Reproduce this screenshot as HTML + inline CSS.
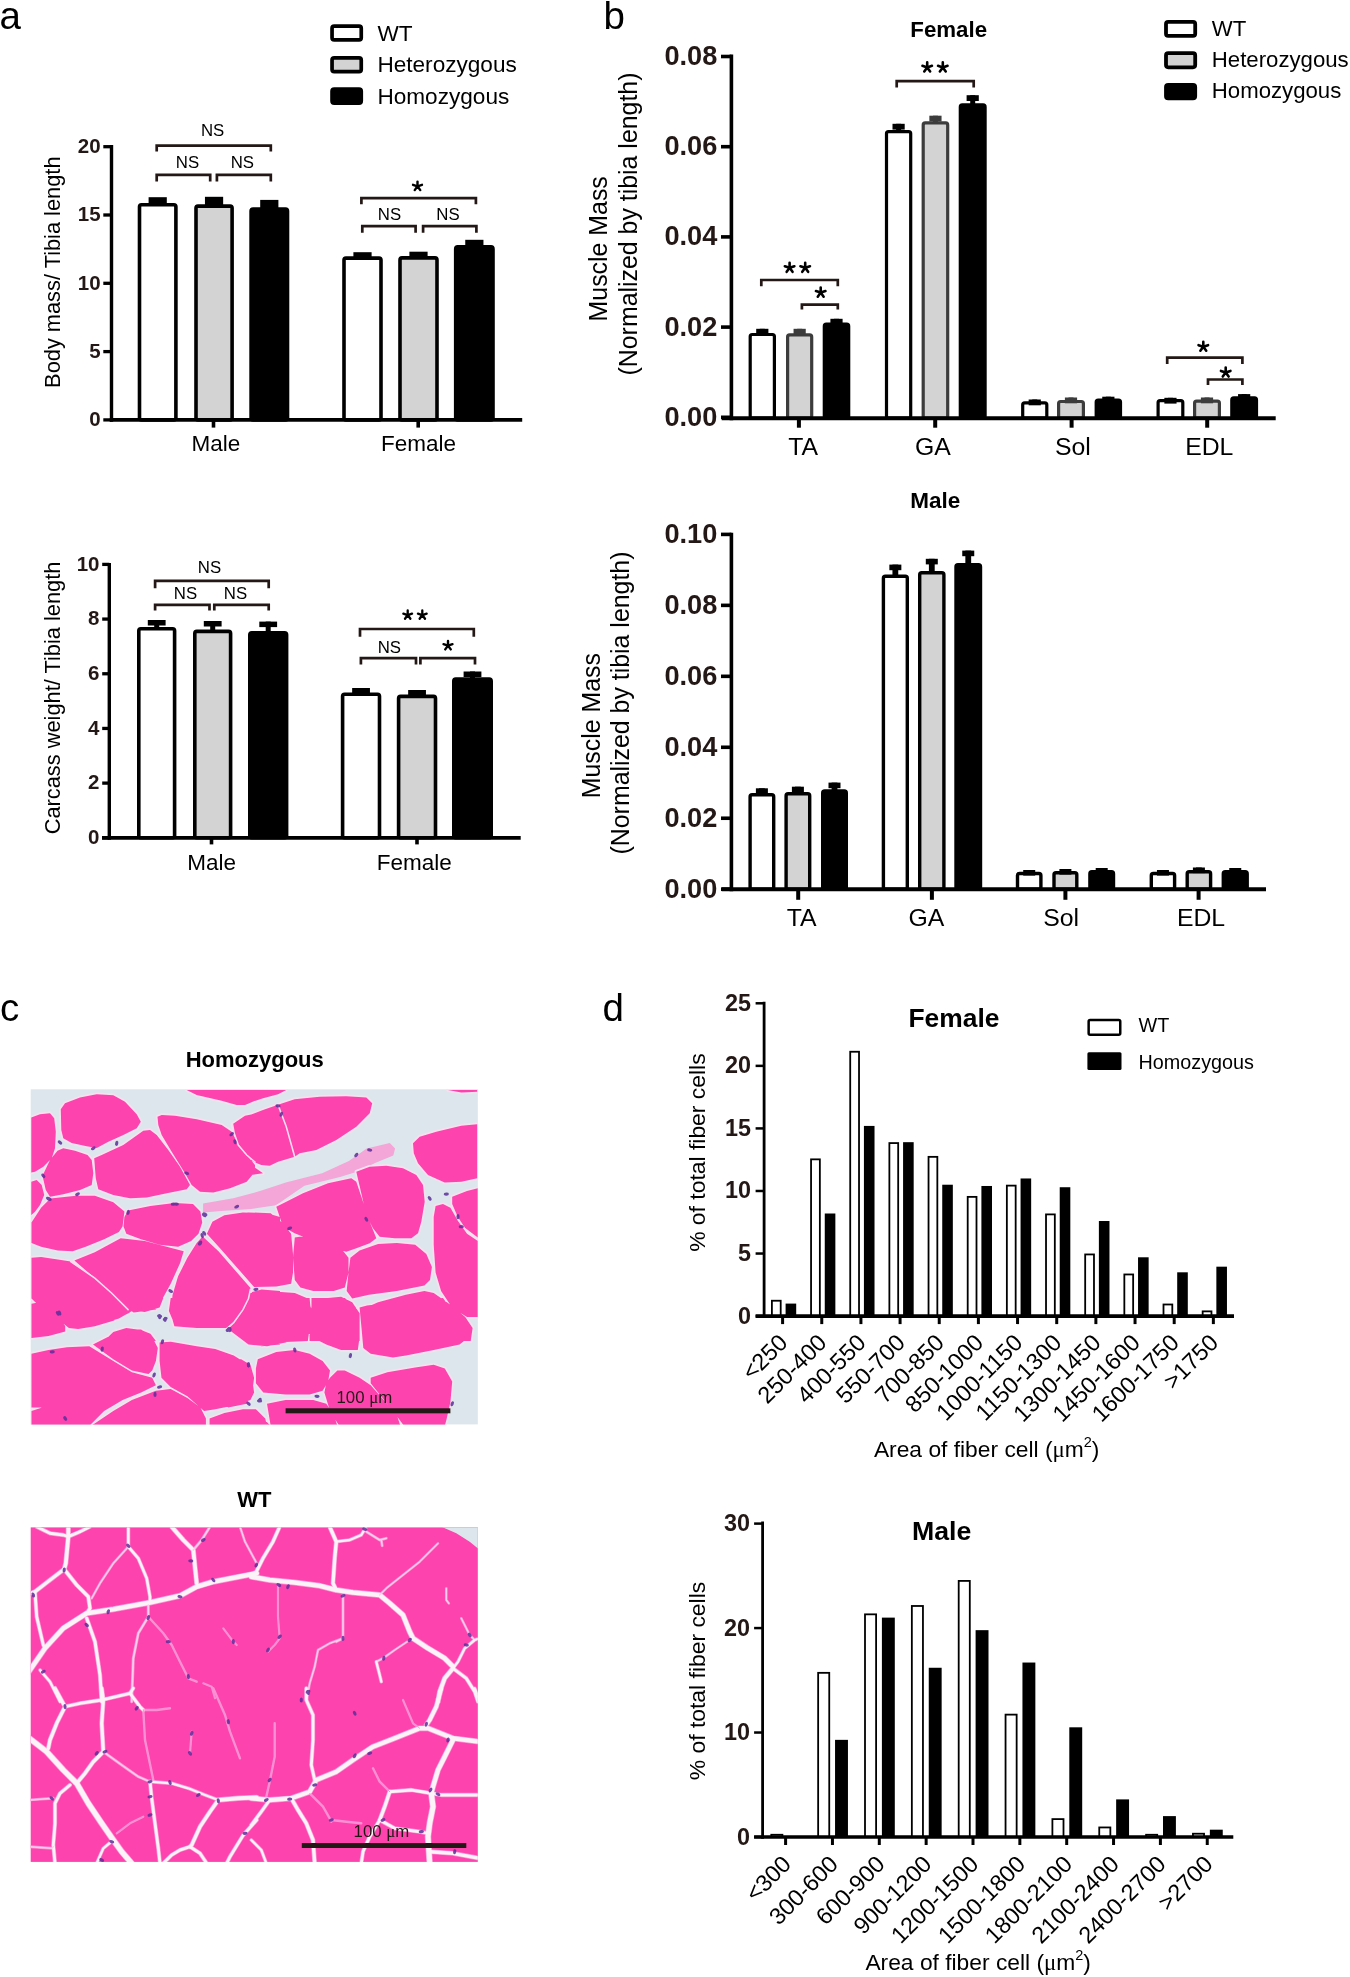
<!DOCTYPE html>
<html><head><meta charset="utf-8"><style>
html,body{margin:0;padding:0;background:#fff;}
svg{display:block;}
text{font-family:"Liberation Sans", sans-serif;}
</style></head><body>
<div style="will-change:transform;width:1350px;height:1977px"><svg width="1350" height="1977" viewBox="0 0 1350 1977">
<rect width="1350" height="1977" fill="#fff"/>
<text x="-0.50" y="28.70" font-size="38.5" text-anchor="start" fill="#000">a</text>
<rect x="332.05" y="26.15" width="29.20" height="13.80" rx="2.2" fill="#fff" stroke="#000" stroke-width="3.7"/>
<text x="377.40" y="40.60" font-size="22.6" text-anchor="start" fill="#000">WT</text>
<rect x="332.05" y="57.85" width="29.20" height="13.80" rx="2.2" fill="#d3d3d3" stroke="#000" stroke-width="3.7"/>
<text x="377.40" y="72.00" font-size="22.6" text-anchor="start" fill="#000">Heterozygous</text>
<rect x="332.05" y="89.05" width="29.20" height="14.10" rx="2.2" fill="#000" stroke="#000" stroke-width="3.7"/>
<text x="377.40" y="103.50" font-size="22.6" text-anchor="start" fill="#000">Homozygous</text>
<line x1="103.30" y1="419.90" x2="111.50" y2="419.90" stroke="#000" stroke-width="3.3" stroke-linecap="butt"/>
<text x="100.60" y="426.20" font-size="20.5" text-anchor="end" font-weight="bold" fill="#231815">0</text>
<line x1="103.30" y1="351.60" x2="111.50" y2="351.60" stroke="#000" stroke-width="3.3" stroke-linecap="butt"/>
<text x="100.60" y="357.90" font-size="20.5" text-anchor="end" font-weight="bold" fill="#231815">5</text>
<line x1="103.30" y1="283.30" x2="111.50" y2="283.30" stroke="#000" stroke-width="3.3" stroke-linecap="butt"/>
<text x="100.60" y="289.60" font-size="20.5" text-anchor="end" font-weight="bold" fill="#231815">10</text>
<line x1="103.30" y1="215.00" x2="111.50" y2="215.00" stroke="#000" stroke-width="3.3" stroke-linecap="butt"/>
<text x="100.60" y="221.30" font-size="20.5" text-anchor="end" font-weight="bold" fill="#231815">15</text>
<line x1="103.30" y1="146.70" x2="111.50" y2="146.70" stroke="#000" stroke-width="3.3" stroke-linecap="butt"/>
<text x="100.60" y="153.00" font-size="20.5" text-anchor="end" font-weight="bold" fill="#231815">20</text>
<line x1="213.50" y1="420.00" x2="213.50" y2="427.60" stroke="#000" stroke-width="3.6" stroke-linecap="butt"/>
<line x1="418.20" y1="420.00" x2="418.20" y2="427.60" stroke="#000" stroke-width="3.6" stroke-linecap="butt"/>
<text x="216.00" y="450.90" font-size="22.5" text-anchor="middle" fill="#000">Male</text>
<text x="418.50" y="451.00" font-size="22.5" text-anchor="middle" fill="#000">Female</text>
<text x="60.00" y="272.20" font-size="21.8" text-anchor="middle" fill="#000" transform="rotate(-90 60 272.2)">Body mass/ Tibia length</text>
<rect x="139.50" y="204.70" width="36.40" height="215.30" fill="#fff" stroke="#000" stroke-width="3.6" rx="2"/>
<rect x="148.60" y="197.20" width="18.20" height="7.70" fill="#000"/>
<rect x="196.00" y="206.10" width="36.10" height="213.90" fill="#d3d3d3" stroke="#000" stroke-width="3.6" rx="2"/>
<rect x="204.95" y="196.80" width="18.20" height="9.50" fill="#000"/>
<rect x="251.10" y="209.10" width="36.40" height="210.90" fill="#000" stroke="#000" stroke-width="3.6" rx="2"/>
<rect x="260.20" y="199.90" width="18.20" height="9.40" fill="#000"/>
<rect x="344.00" y="258.10" width="37.00" height="161.90" fill="#fff" stroke="#000" stroke-width="3.6" rx="2"/>
<rect x="353.40" y="252.20" width="18.20" height="6.10" fill="#000"/>
<rect x="400.00" y="257.90" width="37.00" height="162.10" fill="#d3d3d3" stroke="#000" stroke-width="3.6" rx="2"/>
<rect x="409.40" y="251.70" width="18.20" height="6.40" fill="#000"/>
<rect x="455.70" y="246.90" width="37.30" height="173.10" fill="#000" stroke="#000" stroke-width="3.6" rx="2"/>
<rect x="465.25" y="239.80" width="18.20" height="7.30" fill="#000"/>
<line x1="111.50" y1="145.00" x2="111.50" y2="421.80" stroke="#000" stroke-width="3.4" stroke-linecap="butt"/>
<line x1="109.80" y1="419.90" x2="522.20" y2="419.90" stroke="#000" stroke-width="3.8" stroke-linecap="butt"/>
<path d="M156.7 151.6 V145.6 H270.8 V151.6" fill="none" stroke="#231815" stroke-width="2.7"/>
<path d="M156.7 181.4 V174.9 H210.2 V181.4" fill="none" stroke="#231815" stroke-width="2.7"/>
<path d="M216.9 181.4 V174.9 H270.8 V181.4" fill="none" stroke="#231815" stroke-width="2.7"/>
<text x="212.60" y="135.70" font-size="16.8" text-anchor="middle" fill="#000">NS</text>
<text x="187.50" y="167.50" font-size="16.8" text-anchor="middle" fill="#000">NS</text>
<text x="242.40" y="167.50" font-size="16.8" text-anchor="middle" fill="#000">NS</text>
<path d="M361.4 204.2 V198.1 H475.9 V204.2" fill="none" stroke="#231815" stroke-width="2.7"/>
<path d="M362.3 232.7 V226.1 H415.6 V232.7" fill="none" stroke="#231815" stroke-width="2.7"/>
<path d="M423.1 232.7 V226.1 H476.4 V232.7" fill="none" stroke="#231815" stroke-width="2.7"/>
<path d="M417.50 186.30 L417.50 181.60 M417.50 186.30 L413.03 184.85 M417.50 186.30 L414.74 190.10 M417.50 186.30 L420.26 190.10 M417.50 186.30 L421.97 184.85 " stroke="#000" stroke-width="2.4" stroke-linecap="round" fill="none"/>
<text x="389.50" y="219.50" font-size="16.8" text-anchor="middle" fill="#000">NS</text>
<text x="448.00" y="219.50" font-size="16.8" text-anchor="middle" fill="#000">NS</text>
<line x1="102.20" y1="837.80" x2="109.30" y2="837.80" stroke="#000" stroke-width="3.3" stroke-linecap="butt"/>
<text x="99.50" y="844.10" font-size="20.5" text-anchor="end" font-weight="bold" fill="#231815">0</text>
<line x1="102.20" y1="783.12" x2="109.30" y2="783.12" stroke="#000" stroke-width="3.3" stroke-linecap="butt"/>
<text x="99.50" y="789.42" font-size="20.5" text-anchor="end" font-weight="bold" fill="#231815">2</text>
<line x1="102.20" y1="728.44" x2="109.30" y2="728.44" stroke="#000" stroke-width="3.3" stroke-linecap="butt"/>
<text x="99.50" y="734.74" font-size="20.5" text-anchor="end" font-weight="bold" fill="#231815">4</text>
<line x1="102.20" y1="673.76" x2="109.30" y2="673.76" stroke="#000" stroke-width="3.3" stroke-linecap="butt"/>
<text x="99.50" y="680.06" font-size="20.5" text-anchor="end" font-weight="bold" fill="#231815">6</text>
<line x1="102.20" y1="619.08" x2="109.30" y2="619.08" stroke="#000" stroke-width="3.3" stroke-linecap="butt"/>
<text x="99.50" y="625.38" font-size="20.5" text-anchor="end" font-weight="bold" fill="#231815">8</text>
<line x1="102.20" y1="564.40" x2="109.30" y2="564.40" stroke="#000" stroke-width="3.3" stroke-linecap="butt"/>
<text x="99.50" y="570.70" font-size="20.5" text-anchor="end" font-weight="bold" fill="#231815">10</text>
<line x1="211.50" y1="837.80" x2="211.50" y2="844.40" stroke="#000" stroke-width="3.6" stroke-linecap="butt"/>
<line x1="417.00" y1="837.80" x2="417.00" y2="844.40" stroke="#000" stroke-width="3.6" stroke-linecap="butt"/>
<text x="211.60" y="869.60" font-size="22.5" text-anchor="middle" fill="#000">Male</text>
<text x="414.20" y="869.60" font-size="22.5" text-anchor="middle" fill="#000">Female</text>
<text x="60.40" y="698.00" font-size="21.8" text-anchor="middle" fill="#000" transform="rotate(-90 60.4 698)">Carcass weight/ Tibia length</text>
<rect x="138.80" y="628.80" width="35.80" height="209.00" fill="#fff" stroke="#000" stroke-width="3.6" rx="2"/>
<rect x="154.20" y="620.00" width="5.00" height="9.00" fill="#000"/>
<rect x="147.80" y="620.00" width="17.80" height="5.50" fill="#000"/>
<rect x="194.80" y="631.40" width="35.80" height="206.40" fill="#d3d3d3" stroke="#000" stroke-width="3.6" rx="2"/>
<rect x="210.20" y="621.00" width="5.00" height="10.60" fill="#000"/>
<rect x="203.80" y="621.00" width="17.80" height="5.50" fill="#000"/>
<rect x="249.80" y="632.80" width="36.80" height="205.00" fill="#000" stroke="#000" stroke-width="3.6" rx="2"/>
<rect x="265.70" y="621.60" width="5.00" height="11.40" fill="#000"/>
<rect x="259.30" y="621.60" width="17.80" height="5.50" fill="#000"/>
<rect x="342.60" y="694.20" width="36.90" height="143.60" fill="#fff" stroke="#000" stroke-width="3.6" rx="2"/>
<rect x="358.55" y="688.00" width="5.00" height="6.40" fill="#000"/>
<rect x="352.15" y="688.00" width="17.80" height="5.50" fill="#000"/>
<rect x="398.60" y="696.40" width="36.90" height="141.40" fill="#d3d3d3" stroke="#000" stroke-width="3.6" rx="2"/>
<rect x="414.55" y="690.00" width="5.00" height="6.60" fill="#000"/>
<rect x="408.15" y="690.00" width="17.80" height="5.50" fill="#000"/>
<rect x="453.80" y="679.10" width="37.40" height="158.70" fill="#000" stroke="#000" stroke-width="3.6" rx="2"/>
<rect x="470.00" y="671.50" width="5.00" height="7.80" fill="#000"/>
<rect x="463.60" y="671.50" width="17.80" height="5.50" fill="#000"/>
<line x1="109.30" y1="563.00" x2="109.30" y2="839.70" stroke="#000" stroke-width="3.4" stroke-linecap="butt"/>
<line x1="102.00" y1="837.80" x2="520.70" y2="837.80" stroke="#000" stroke-width="3.8" stroke-linecap="butt"/>
<path d="M155.1 588.1999999999999 V580.8 H268.7 V588.1999999999999" fill="none" stroke="#231815" stroke-width="2.7"/>
<path d="M155.1 610.4 V604.8 H209.5 V610.4" fill="none" stroke="#231815" stroke-width="2.7"/>
<path d="M214.3 610.4 V604.8 H268.7 V610.4" fill="none" stroke="#231815" stroke-width="2.7"/>
<text x="209.50" y="572.80" font-size="16.8" text-anchor="middle" fill="#000">NS</text>
<text x="185.50" y="599.30" font-size="16.8" text-anchor="middle" fill="#000">NS</text>
<text x="235.50" y="599.30" font-size="16.8" text-anchor="middle" fill="#000">NS</text>
<path d="M360 636.8 V629 H473.8 V636.8" fill="none" stroke="#231815" stroke-width="2.7"/>
<path d="M360.9 664.5 V658.1 H416 V664.5" fill="none" stroke="#231815" stroke-width="2.7"/>
<path d="M420.4 664.5 V658.1 H475 V664.5" fill="none" stroke="#231815" stroke-width="2.7"/>
<path d="M407.70 615.05 L407.70 610.45 M407.70 615.05 L403.33 613.63 M407.70 615.05 L405.00 618.77 M407.70 615.05 L410.40 618.77 M407.70 615.05 L412.07 613.63 " stroke="#000" stroke-width="2.3" stroke-linecap="round" fill="none"/>
<path d="M422.30 615.05 L422.30 610.45 M422.30 615.05 L417.93 613.63 M422.30 615.05 L419.60 618.77 M422.30 615.05 L425.00 618.77 M422.30 615.05 L426.67 613.63 " stroke="#000" stroke-width="2.3" stroke-linecap="round" fill="none"/>
<text x="389.30" y="653.30" font-size="16.8" text-anchor="middle" fill="#000">NS</text>
<path d="M448.00 645.60 L448.00 640.90 M448.00 645.60 L443.53 644.15 M448.00 645.60 L445.24 649.40 M448.00 645.60 L450.76 649.40 M448.00 645.60 L452.47 644.15 " stroke="#000" stroke-width="2.4" stroke-linecap="round" fill="none"/>
<text x="603.50" y="28.70" font-size="38.5" text-anchor="start" fill="#000">b</text>
<rect x="1166.00" y="21.80" width="29.20" height="14.10" rx="2.2" fill="#fff" stroke="#000" stroke-width="3.8"/>
<text x="1211.80" y="36.10" font-size="22.2" text-anchor="start" fill="#000">WT</text>
<rect x="1166.00" y="53.20" width="29.20" height="14.10" rx="2.2" fill="#d3d3d3" stroke="#000" stroke-width="3.8"/>
<text x="1211.80" y="67.20" font-size="22.2" text-anchor="start" fill="#000">Heterozygous</text>
<rect x="1166.00" y="84.80" width="29.20" height="13.60" rx="2.2" fill="#000" stroke="#000" stroke-width="3.8"/>
<text x="1211.80" y="98.30" font-size="22.2" text-anchor="start" fill="#000">Homozygous</text>
<text x="948.70" y="36.70" font-size="22.3" text-anchor="middle" font-weight="bold" fill="#000">Female</text>
<line x1="721.00" y1="417.30" x2="731.40" y2="417.30" stroke="#000" stroke-width="3.6" stroke-linecap="butt"/>
<text x="717.30" y="425.70" font-size="27.2" text-anchor="end" font-weight="bold" fill="#231815">0.00</text>
<line x1="721.00" y1="327.10" x2="731.40" y2="327.10" stroke="#000" stroke-width="3.6" stroke-linecap="butt"/>
<text x="717.30" y="335.50" font-size="27.2" text-anchor="end" font-weight="bold" fill="#231815">0.02</text>
<line x1="721.00" y1="236.90" x2="731.40" y2="236.90" stroke="#000" stroke-width="3.6" stroke-linecap="butt"/>
<text x="717.30" y="245.30" font-size="27.2" text-anchor="end" font-weight="bold" fill="#231815">0.04</text>
<line x1="721.00" y1="146.70" x2="731.40" y2="146.70" stroke="#000" stroke-width="3.6" stroke-linecap="butt"/>
<text x="717.30" y="155.10" font-size="27.2" text-anchor="end" font-weight="bold" fill="#231815">0.06</text>
<line x1="721.00" y1="56.50" x2="731.40" y2="56.50" stroke="#000" stroke-width="3.6" stroke-linecap="butt"/>
<text x="717.30" y="64.90" font-size="27.2" text-anchor="end" font-weight="bold" fill="#231815">0.08</text>
<line x1="798.90" y1="418.20" x2="798.90" y2="427.70" stroke="#000" stroke-width="4" stroke-linecap="butt"/>
<text x="803.10" y="455.40" font-size="24.8" text-anchor="middle" fill="#000">TA</text>
<line x1="935.20" y1="418.20" x2="935.20" y2="427.70" stroke="#000" stroke-width="4" stroke-linecap="butt"/>
<text x="933.00" y="455.40" font-size="24.8" text-anchor="middle" fill="#000">GA</text>
<line x1="1071.60" y1="418.20" x2="1071.60" y2="427.70" stroke="#000" stroke-width="4" stroke-linecap="butt"/>
<text x="1072.90" y="455.40" font-size="24.8" text-anchor="middle" fill="#000">Sol</text>
<line x1="1207.20" y1="418.20" x2="1207.20" y2="427.70" stroke="#000" stroke-width="4" stroke-linecap="butt"/>
<text x="1209.30" y="455.40" font-size="24.8" text-anchor="middle" fill="#000">EDL</text>
<text x="607.30" y="248.80" font-size="24.9" text-anchor="middle" fill="#000" transform="rotate(-90 607.3 248.8)">Muscle Mass</text>
<text x="636.60" y="224.00" font-size="24.9" text-anchor="middle" fill="#000" transform="rotate(-90 636.6 224)">(Normalized by tibia length)</text>
<rect x="750.20" y="334.50" width="24.20" height="83.70" fill="#fff" stroke="#000" stroke-width="3.2" rx="2"/>
<rect x="759.80" y="328.80" width="5.00" height="6.10" fill="#000"/>
<rect x="756.20" y="328.80" width="12.20" height="5.80" fill="#000"/>
<rect x="787.60" y="334.90" width="24.10" height="83.30" fill="#d3d3d3" stroke="#3c3c3c" stroke-width="3.2" rx="2"/>
<rect x="797.15" y="328.80" width="5.00" height="6.50" fill="#3c3c3c"/>
<rect x="793.55" y="328.80" width="12.20" height="5.80" fill="#3c3c3c"/>
<rect x="824.30" y="324.20" width="24.40" height="94.00" fill="#000" stroke="#000" stroke-width="3.2" rx="2"/>
<rect x="834.00" y="318.80" width="5.00" height="5.80" fill="#000"/>
<rect x="830.40" y="318.80" width="12.20" height="5.80" fill="#000"/>
<rect x="886.50" y="131.60" width="24.20" height="286.60" fill="#fff" stroke="#000" stroke-width="3.2" rx="2"/>
<rect x="896.10" y="123.80" width="5.00" height="8.20" fill="#000"/>
<rect x="892.50" y="123.80" width="12.20" height="5.80" fill="#000"/>
<rect x="923.20" y="122.90" width="24.50" height="295.30" fill="#d3d3d3" stroke="#3c3c3c" stroke-width="3.2" rx="2"/>
<rect x="932.95" y="115.70" width="5.00" height="7.60" fill="#3c3c3c"/>
<rect x="929.35" y="115.70" width="12.20" height="5.80" fill="#3c3c3c"/>
<rect x="960.30" y="104.90" width="24.80" height="313.30" fill="#000" stroke="#000" stroke-width="3.2" rx="2"/>
<rect x="970.20" y="95.20" width="5.00" height="10.10" fill="#000"/>
<rect x="966.60" y="95.20" width="12.20" height="5.80" fill="#000"/>
<rect x="1022.70" y="402.80" width="24.10" height="15.40" fill="#fff" stroke="#000" stroke-width="3.2" rx="2"/>
<rect x="1032.25" y="399.50" width="5.00" height="3.70" fill="#000"/>
<rect x="1028.65" y="399.50" width="12.20" height="5.80" fill="#000"/>
<rect x="1058.60" y="401.50" width="24.80" height="16.70" fill="#d3d3d3" stroke="#3c3c3c" stroke-width="3.2" rx="2"/>
<rect x="1068.50" y="397.50" width="5.00" height="4.40" fill="#3c3c3c"/>
<rect x="1064.90" y="397.50" width="12.20" height="5.80" fill="#3c3c3c"/>
<rect x="1096.20" y="400.00" width="24.30" height="18.20" fill="#000" stroke="#000" stroke-width="3.2" rx="2"/>
<rect x="1105.85" y="396.70" width="5.00" height="3.70" fill="#000"/>
<rect x="1102.25" y="396.70" width="12.20" height="5.80" fill="#000"/>
<rect x="1158.10" y="400.60" width="24.70" height="17.60" fill="#fff" stroke="#000" stroke-width="3.2" rx="2"/>
<rect x="1167.95" y="397.80" width="5.00" height="3.20" fill="#000"/>
<rect x="1164.35" y="397.80" width="12.20" height="5.80" fill="#000"/>
<rect x="1194.60" y="401.10" width="24.80" height="17.10" fill="#d3d3d3" stroke="#3c3c3c" stroke-width="3.2" rx="2"/>
<rect x="1204.50" y="397.50" width="5.00" height="4.00" fill="#3c3c3c"/>
<rect x="1200.90" y="397.50" width="12.20" height="5.80" fill="#3c3c3c"/>
<rect x="1231.80" y="397.90" width="24.70" height="20.30" fill="#000" stroke="#000" stroke-width="3.2" rx="2"/>
<rect x="1241.65" y="394.10" width="5.00" height="4.20" fill="#000"/>
<rect x="1238.05" y="394.10" width="12.20" height="5.80" fill="#000"/>
<line x1="731.40" y1="54.60" x2="731.40" y2="420.20" stroke="#000" stroke-width="3.6" stroke-linecap="butt"/>
<line x1="721.70" y1="418.20" x2="1275.70" y2="418.20" stroke="#000" stroke-width="3.9" stroke-linecap="butt"/>
<path d="M761.3 286.3 V280 H837.8 V286.3" fill="none" stroke="#231815" stroke-width="2.7"/>
<path d="M789.60 267.80 L789.60 262.80 M789.60 267.80 L784.84 266.25 M789.60 267.80 L786.66 271.85 M789.60 267.80 L792.54 271.85 M789.60 267.80 L794.36 266.25 " stroke="#000" stroke-width="2.6" stroke-linecap="round" fill="none"/>
<path d="M805.20 267.80 L805.20 262.80 M805.20 267.80 L800.44 266.25 M805.20 267.80 L802.26 271.85 M805.20 267.80 L808.14 271.85 M805.20 267.80 L809.96 266.25 " stroke="#000" stroke-width="2.6" stroke-linecap="round" fill="none"/>
<path d="M801.9 309.6 V304.6 H837.8 V309.6" fill="none" stroke="#231815" stroke-width="2.7"/>
<path d="M820.70 292.60 L820.70 287.60 M820.70 292.60 L815.94 291.05 M820.70 292.60 L817.76 296.65 M820.70 292.60 L823.64 296.65 M820.70 292.60 L825.46 291.05 " stroke="#000" stroke-width="2.6" stroke-linecap="round" fill="none"/>
<path d="M896.7 87.39999999999999 V81.1 H973.7 V87.39999999999999" fill="none" stroke="#231815" stroke-width="2.7"/>
<path d="M927.20 67.40 L927.20 62.40 M927.20 67.40 L922.44 65.85 M927.20 67.40 L924.26 71.45 M927.20 67.40 L930.14 71.45 M927.20 67.40 L931.96 65.85 " stroke="#000" stroke-width="2.6" stroke-linecap="round" fill="none"/>
<path d="M942.80 67.40 L942.80 62.40 M942.80 67.40 L938.04 65.85 M942.80 67.40 L939.86 71.45 M942.80 67.40 L945.74 71.45 M942.80 67.40 L947.56 65.85 " stroke="#000" stroke-width="2.6" stroke-linecap="round" fill="none"/>
<path d="M1167.2 364.0 V357.6 H1242.4 V364.0" fill="none" stroke="#231815" stroke-width="2.7"/>
<path d="M1203.30 346.70 L1203.30 341.70 M1203.30 346.70 L1198.54 345.15 M1203.30 346.70 L1200.36 350.75 M1203.30 346.70 L1206.24 350.75 M1203.30 346.70 L1208.06 345.15 " stroke="#000" stroke-width="2.6" stroke-linecap="round" fill="none"/>
<path d="M1208 384.9 V379.5 H1242.4 V384.9" fill="none" stroke="#231815" stroke-width="2.7"/>
<path d="M1225.70 372.50 L1225.70 367.50 M1225.70 372.50 L1220.94 370.95 M1225.70 372.50 L1222.76 376.55 M1225.70 372.50 L1228.64 376.55 M1225.70 372.50 L1230.46 370.95 " stroke="#000" stroke-width="2.6" stroke-linecap="round" fill="none"/>
<text x="935.30" y="507.60" font-size="22.5" text-anchor="middle" font-weight="bold" fill="#000">Male</text>
<line x1="721.00" y1="889.20" x2="731.40" y2="889.20" stroke="#000" stroke-width="3.6" stroke-linecap="butt"/>
<text x="717.30" y="897.60" font-size="27.2" text-anchor="end" font-weight="bold" fill="#231815">0.00</text>
<line x1="721.00" y1="818.24" x2="731.40" y2="818.24" stroke="#000" stroke-width="3.6" stroke-linecap="butt"/>
<text x="717.30" y="826.64" font-size="27.2" text-anchor="end" font-weight="bold" fill="#231815">0.02</text>
<line x1="721.00" y1="747.28" x2="731.40" y2="747.28" stroke="#000" stroke-width="3.6" stroke-linecap="butt"/>
<text x="717.30" y="755.68" font-size="27.2" text-anchor="end" font-weight="bold" fill="#231815">0.04</text>
<line x1="721.00" y1="676.32" x2="731.40" y2="676.32" stroke="#000" stroke-width="3.6" stroke-linecap="butt"/>
<text x="717.30" y="684.72" font-size="27.2" text-anchor="end" font-weight="bold" fill="#231815">0.06</text>
<line x1="721.00" y1="605.36" x2="731.40" y2="605.36" stroke="#000" stroke-width="3.6" stroke-linecap="butt"/>
<text x="717.30" y="613.76" font-size="27.2" text-anchor="end" font-weight="bold" fill="#231815">0.08</text>
<line x1="721.00" y1="534.40" x2="731.40" y2="534.40" stroke="#000" stroke-width="3.6" stroke-linecap="butt"/>
<text x="717.30" y="542.80" font-size="27.2" text-anchor="end" font-weight="bold" fill="#231815">0.10</text>
<line x1="798.20" y1="889.30" x2="798.20" y2="899.80" stroke="#000" stroke-width="4" stroke-linecap="butt"/>
<text x="801.60" y="926.00" font-size="24.8" text-anchor="middle" fill="#000">TA</text>
<line x1="931.90" y1="889.30" x2="931.90" y2="899.80" stroke="#000" stroke-width="4" stroke-linecap="butt"/>
<text x="926.50" y="926.00" font-size="24.8" text-anchor="middle" fill="#000">GA</text>
<line x1="1065.40" y1="889.30" x2="1065.40" y2="899.80" stroke="#000" stroke-width="4" stroke-linecap="butt"/>
<text x="1061.20" y="926.00" font-size="24.8" text-anchor="middle" fill="#000">Sol</text>
<line x1="1198.60" y1="889.30" x2="1198.60" y2="899.80" stroke="#000" stroke-width="4" stroke-linecap="butt"/>
<text x="1201.00" y="926.00" font-size="24.8" text-anchor="middle" fill="#000">EDL</text>
<text x="599.60" y="725.60" font-size="24.9" text-anchor="middle" fill="#000" transform="rotate(-90 599.6 725.6)">Muscle Mass</text>
<text x="629.20" y="703.00" font-size="24.9" text-anchor="middle" fill="#000" transform="rotate(-90 629.2 703)">(Normalized by tibia length)</text>
<rect x="750.10" y="794.80" width="23.60" height="94.50" fill="#fff" stroke="#000" stroke-width="3.4" rx="2"/>
<rect x="759.00" y="788.30" width="5.80" height="6.80" fill="#000"/>
<rect x="755.90" y="788.30" width="12.00" height="5.60" fill="#000"/>
<rect x="786.10" y="793.80" width="23.60" height="95.50" fill="#d3d3d3" stroke="#000" stroke-width="3.4" rx="2"/>
<rect x="795.00" y="786.70" width="5.80" height="7.40" fill="#000"/>
<rect x="791.90" y="786.70" width="12.00" height="5.60" fill="#000"/>
<rect x="822.70" y="790.90" width="23.60" height="98.40" fill="#000" stroke="#000" stroke-width="3.4" rx="2"/>
<rect x="831.60" y="782.60" width="5.80" height="8.60" fill="#000"/>
<rect x="828.50" y="782.60" width="12.00" height="5.60" fill="#000"/>
<rect x="883.40" y="576.20" width="23.90" height="313.10" fill="#fff" stroke="#000" stroke-width="3.4" rx="2"/>
<rect x="892.45" y="564.60" width="5.80" height="11.90" fill="#000"/>
<rect x="889.35" y="564.60" width="12.00" height="5.60" fill="#000"/>
<rect x="919.70" y="572.70" width="24.20" height="316.60" fill="#d3d3d3" stroke="#000" stroke-width="3.4" rx="2"/>
<rect x="928.90" y="558.80" width="5.80" height="14.20" fill="#000"/>
<rect x="925.80" y="558.80" width="12.00" height="5.60" fill="#000"/>
<rect x="956.00" y="564.80" width="24.50" height="324.50" fill="#000" stroke="#000" stroke-width="3.4" rx="2"/>
<rect x="965.35" y="550.60" width="5.80" height="14.50" fill="#000"/>
<rect x="962.25" y="550.60" width="12.00" height="5.60" fill="#000"/>
<rect x="1017.50" y="873.50" width="23.40" height="15.80" fill="#fff" stroke="#000" stroke-width="3.4" rx="2"/>
<rect x="1026.30" y="870.00" width="5.80" height="3.80" fill="#000"/>
<rect x="1023.20" y="870.00" width="12.00" height="5.60" fill="#000"/>
<rect x="1054.00" y="872.80" width="22.80" height="16.50" fill="#d3d3d3" stroke="#000" stroke-width="3.4" rx="2"/>
<rect x="1062.50" y="869.00" width="5.80" height="4.10" fill="#000"/>
<rect x="1059.40" y="869.00" width="12.00" height="5.60" fill="#000"/>
<rect x="1089.90" y="871.70" width="23.60" height="17.60" fill="#000" stroke="#000" stroke-width="3.4" rx="2"/>
<rect x="1098.80" y="868.00" width="5.80" height="4.00" fill="#000"/>
<rect x="1095.70" y="868.00" width="12.00" height="5.60" fill="#000"/>
<rect x="1151.30" y="873.50" width="23.30" height="15.80" fill="#fff" stroke="#000" stroke-width="3.4" rx="2"/>
<rect x="1160.05" y="870.00" width="5.80" height="3.80" fill="#000"/>
<rect x="1156.95" y="870.00" width="12.00" height="5.60" fill="#000"/>
<rect x="1187.20" y="871.70" width="23.40" height="17.60" fill="#d3d3d3" stroke="#000" stroke-width="3.4" rx="2"/>
<rect x="1196.00" y="867.50" width="5.80" height="4.50" fill="#000"/>
<rect x="1192.90" y="867.50" width="12.00" height="5.60" fill="#000"/>
<rect x="1223.30" y="871.70" width="23.90" height="17.60" fill="#000" stroke="#000" stroke-width="3.4" rx="2"/>
<rect x="1232.35" y="868.00" width="5.80" height="4.00" fill="#000"/>
<rect x="1229.25" y="868.00" width="12.00" height="5.60" fill="#000"/>
<line x1="731.40" y1="532.70" x2="731.40" y2="891.20" stroke="#000" stroke-width="3.6" stroke-linecap="butt"/>
<line x1="721.70" y1="889.30" x2="1266.00" y2="889.30" stroke="#000" stroke-width="3.9" stroke-linecap="butt"/>
<text x="602.50" y="1020.50" font-size="38.5" text-anchor="start" fill="#000">d</text>
<line x1="755.60" y1="1316.10" x2="764.10" y2="1316.10" stroke="#000" stroke-width="2.5" stroke-linecap="butt"/>
<text x="751.00" y="1323.60" font-size="23.4" text-anchor="end" font-weight="bold" fill="#231815">0</text>
<line x1="755.60" y1="1253.54" x2="764.10" y2="1253.54" stroke="#000" stroke-width="2.5" stroke-linecap="butt"/>
<text x="751.00" y="1261.04" font-size="23.4" text-anchor="end" font-weight="bold" fill="#231815">5</text>
<line x1="755.60" y1="1190.98" x2="764.10" y2="1190.98" stroke="#000" stroke-width="2.5" stroke-linecap="butt"/>
<text x="751.00" y="1198.48" font-size="23.4" text-anchor="end" font-weight="bold" fill="#231815">10</text>
<line x1="755.60" y1="1128.42" x2="764.10" y2="1128.42" stroke="#000" stroke-width="2.5" stroke-linecap="butt"/>
<text x="751.00" y="1135.92" font-size="23.4" text-anchor="end" font-weight="bold" fill="#231815">15</text>
<line x1="755.60" y1="1065.86" x2="764.10" y2="1065.86" stroke="#000" stroke-width="2.5" stroke-linecap="butt"/>
<text x="751.00" y="1073.36" font-size="23.4" text-anchor="end" font-weight="bold" fill="#231815">20</text>
<line x1="755.60" y1="1003.30" x2="764.10" y2="1003.30" stroke="#000" stroke-width="2.5" stroke-linecap="butt"/>
<text x="751.00" y="1010.80" font-size="23.4" text-anchor="end" font-weight="bold" fill="#231815">25</text>
<line x1="782.60" y1="1316.10" x2="782.60" y2="1324.10" stroke="#000" stroke-width="3" stroke-linecap="butt"/>
<rect x="771.90" y="1300.73" width="8.80" height="15.37" fill="#fff" stroke="#000" stroke-width="1.8"/>
<rect x="785.60" y="1303.59" width="10.60" height="12.51" fill="#000"/>
<text x="788.90" y="1344.10" font-size="23.4" text-anchor="end" fill="#000" transform="rotate(-45 788.9 1344.1)">&lt;250</text>
<line x1="821.76" y1="1316.10" x2="821.76" y2="1324.10" stroke="#000" stroke-width="3" stroke-linecap="butt"/>
<rect x="811.06" y="1159.35" width="8.80" height="156.75" fill="#fff" stroke="#000" stroke-width="1.8"/>
<rect x="824.76" y="1213.50" width="10.60" height="102.60" fill="#000"/>
<text x="828.06" y="1344.10" font-size="23.4" text-anchor="end" fill="#000" transform="rotate(-45 828.06 1344.1)">250-400</text>
<line x1="860.92" y1="1316.10" x2="860.92" y2="1324.10" stroke="#000" stroke-width="3" stroke-linecap="butt"/>
<rect x="850.22" y="1051.75" width="8.80" height="264.35" fill="#fff" stroke="#000" stroke-width="1.8"/>
<rect x="863.92" y="1125.92" width="10.60" height="190.18" fill="#000"/>
<text x="867.22" y="1344.10" font-size="23.4" text-anchor="end" fill="#000" transform="rotate(-45 867.22 1344.1)">400-550</text>
<line x1="900.08" y1="1316.10" x2="900.08" y2="1324.10" stroke="#000" stroke-width="3" stroke-linecap="butt"/>
<rect x="889.38" y="1143.08" width="8.80" height="173.02" fill="#fff" stroke="#000" stroke-width="1.8"/>
<rect x="903.08" y="1142.18" width="10.60" height="173.92" fill="#000"/>
<text x="906.38" y="1344.10" font-size="23.4" text-anchor="end" fill="#000" transform="rotate(-45 906.38 1344.1)">550-700</text>
<line x1="939.24" y1="1316.10" x2="939.24" y2="1324.10" stroke="#000" stroke-width="3" stroke-linecap="butt"/>
<rect x="928.54" y="1156.85" width="8.80" height="159.25" fill="#fff" stroke="#000" stroke-width="1.8"/>
<rect x="942.24" y="1184.72" width="10.60" height="131.38" fill="#000"/>
<text x="945.54" y="1344.10" font-size="23.4" text-anchor="end" fill="#000" transform="rotate(-45 945.54 1344.1)">700-850</text>
<line x1="978.40" y1="1316.10" x2="978.40" y2="1324.10" stroke="#000" stroke-width="3" stroke-linecap="butt"/>
<rect x="967.70" y="1196.88" width="8.80" height="119.22" fill="#fff" stroke="#000" stroke-width="1.8"/>
<rect x="981.40" y="1185.98" width="10.60" height="130.12" fill="#000"/>
<text x="984.70" y="1344.10" font-size="23.4" text-anchor="end" fill="#000" transform="rotate(-45 984.6999999999999 1344.1)">850-1000</text>
<line x1="1017.56" y1="1316.10" x2="1017.56" y2="1324.10" stroke="#000" stroke-width="3" stroke-linecap="butt"/>
<rect x="1006.86" y="1185.62" width="8.80" height="130.48" fill="#fff" stroke="#000" stroke-width="1.8"/>
<rect x="1020.56" y="1178.47" width="10.60" height="137.63" fill="#000"/>
<text x="1023.86" y="1344.10" font-size="23.4" text-anchor="end" fill="#000" transform="rotate(-45 1023.8599999999999 1344.1)">1000-1150</text>
<line x1="1056.72" y1="1316.10" x2="1056.72" y2="1324.10" stroke="#000" stroke-width="3" stroke-linecap="butt"/>
<rect x="1046.02" y="1214.40" width="8.80" height="101.70" fill="#fff" stroke="#000" stroke-width="1.8"/>
<rect x="1059.72" y="1187.23" width="10.60" height="128.87" fill="#000"/>
<text x="1063.02" y="1344.10" font-size="23.4" text-anchor="end" fill="#000" transform="rotate(-45 1063.02 1344.1)">1150-1300</text>
<line x1="1095.88" y1="1316.10" x2="1095.88" y2="1324.10" stroke="#000" stroke-width="3" stroke-linecap="butt"/>
<rect x="1085.18" y="1254.44" width="8.80" height="61.66" fill="#fff" stroke="#000" stroke-width="1.8"/>
<rect x="1098.88" y="1221.01" width="10.60" height="95.09" fill="#000"/>
<text x="1102.18" y="1344.10" font-size="23.4" text-anchor="end" fill="#000" transform="rotate(-45 1102.18 1344.1)">1300-1450</text>
<line x1="1135.04" y1="1316.10" x2="1135.04" y2="1324.10" stroke="#000" stroke-width="3" stroke-linecap="butt"/>
<rect x="1124.34" y="1274.46" width="8.80" height="41.64" fill="#fff" stroke="#000" stroke-width="1.8"/>
<rect x="1138.04" y="1257.29" width="10.60" height="58.81" fill="#000"/>
<text x="1141.34" y="1344.10" font-size="23.4" text-anchor="end" fill="#000" transform="rotate(-45 1141.34 1344.1)">1450-1600</text>
<line x1="1174.20" y1="1316.10" x2="1174.20" y2="1324.10" stroke="#000" stroke-width="3" stroke-linecap="butt"/>
<rect x="1163.50" y="1304.49" width="8.80" height="11.61" fill="#fff" stroke="#000" stroke-width="1.8"/>
<rect x="1177.20" y="1272.31" width="10.60" height="43.79" fill="#000"/>
<text x="1180.50" y="1344.10" font-size="23.4" text-anchor="end" fill="#000" transform="rotate(-45 1180.5 1344.1)">1600-1750</text>
<line x1="1213.36" y1="1316.10" x2="1213.36" y2="1324.10" stroke="#000" stroke-width="3" stroke-linecap="butt"/>
<rect x="1202.66" y="1311.37" width="8.80" height="4.73" fill="#fff" stroke="#000" stroke-width="1.8"/>
<rect x="1216.36" y="1266.68" width="10.60" height="49.42" fill="#000"/>
<text x="1219.66" y="1344.10" font-size="23.4" text-anchor="end" fill="#000" transform="rotate(-45 1219.66 1344.1)">&gt;1750</text>
<line x1="764.10" y1="1001.80" x2="764.10" y2="1317.90" stroke="#000" stroke-width="2.8" stroke-linecap="butt"/>
<line x1="755.60" y1="1316.10" x2="1234.00" y2="1316.10" stroke="#000" stroke-width="3.6" stroke-linecap="butt"/>
<text x="908.50" y="1027.00" font-size="26.4" text-anchor="start" font-weight="bold" fill="#000">Female</text>
<text x="704.70" y="1152.60" font-size="22.9" text-anchor="middle" fill="#000" transform="rotate(-90 704.7 1152.6)">% of total fiber cells</text>
<text x="873.9" y="1456.6" font-size="22.8" fill="#000">Area of fiber cell (<tspan font-family="Liberation Serif, serif">&#956;</tspan>m<tspan font-size="14.5" dy="-9.5">2</tspan><tspan dy="9.5">)</tspan></text>
<rect x="1088.65" y="1019.95" width="31.6" height="14.7" fill="#fff" stroke="#000" stroke-width="2.5" rx="1.5"/>
<rect x="1087.4" y="1052.2" width="34.1" height="17.8" fill="#000" rx="1.5"/>
<text x="1138.50" y="1031.50" font-size="19.8" text-anchor="start" fill="#000">WT</text>
<text x="1138.50" y="1068.50" font-size="19.8" text-anchor="start" fill="#000">Homozygous</text>
<line x1="754.10" y1="1837.00" x2="762.60" y2="1837.00" stroke="#000" stroke-width="2.5" stroke-linecap="butt"/>
<text x="750.00" y="1844.50" font-size="23.4" text-anchor="end" font-weight="bold" fill="#231815">0</text>
<line x1="754.10" y1="1732.53" x2="762.60" y2="1732.53" stroke="#000" stroke-width="2.5" stroke-linecap="butt"/>
<text x="750.00" y="1740.03" font-size="23.4" text-anchor="end" font-weight="bold" fill="#231815">10</text>
<line x1="754.10" y1="1628.07" x2="762.60" y2="1628.07" stroke="#000" stroke-width="2.5" stroke-linecap="butt"/>
<text x="750.00" y="1635.57" font-size="23.4" text-anchor="end" font-weight="bold" fill="#231815">20</text>
<line x1="754.10" y1="1523.60" x2="762.60" y2="1523.60" stroke="#000" stroke-width="2.5" stroke-linecap="butt"/>
<text x="750.00" y="1531.10" font-size="23.4" text-anchor="end" font-weight="bold" fill="#231815">30</text>
<line x1="785.60" y1="1837.00" x2="785.60" y2="1845.00" stroke="#000" stroke-width="3" stroke-linecap="butt"/>
<rect x="771.30" y="1834.77" width="11.10" height="2.23" fill="#fff" stroke="#000" stroke-width="1.8"/>
<text x="792.50" y="1865.60" font-size="23.4" text-anchor="end" fill="#000" transform="rotate(-45 792.5 1865.6)">&lt;300</text>
<line x1="832.45" y1="1837.00" x2="832.45" y2="1845.00" stroke="#000" stroke-width="3" stroke-linecap="butt"/>
<rect x="818.15" y="1672.84" width="11.10" height="164.16" fill="#fff" stroke="#000" stroke-width="1.8"/>
<rect x="835.05" y="1739.85" width="12.90" height="97.15" fill="#000"/>
<text x="839.35" y="1865.60" font-size="23.4" text-anchor="end" fill="#000" transform="rotate(-45 839.35 1865.6)">300-600</text>
<line x1="879.30" y1="1837.00" x2="879.30" y2="1845.00" stroke="#000" stroke-width="3" stroke-linecap="butt"/>
<rect x="865.00" y="1614.34" width="11.10" height="222.66" fill="#fff" stroke="#000" stroke-width="1.8"/>
<rect x="881.90" y="1617.62" width="12.90" height="219.38" fill="#000"/>
<text x="886.20" y="1865.60" font-size="23.4" text-anchor="end" fill="#000" transform="rotate(-45 886.2 1865.6)">600-900</text>
<line x1="926.15" y1="1837.00" x2="926.15" y2="1845.00" stroke="#000" stroke-width="3" stroke-linecap="butt"/>
<rect x="911.85" y="1605.98" width="11.10" height="231.02" fill="#fff" stroke="#000" stroke-width="1.8"/>
<rect x="928.75" y="1667.76" width="12.90" height="169.24" fill="#000"/>
<text x="933.05" y="1865.60" font-size="23.4" text-anchor="end" fill="#000" transform="rotate(-45 933.0500000000001 1865.6)">900-1200</text>
<line x1="973.00" y1="1837.00" x2="973.00" y2="1845.00" stroke="#000" stroke-width="3" stroke-linecap="butt"/>
<rect x="958.70" y="1580.91" width="11.10" height="256.09" fill="#fff" stroke="#000" stroke-width="1.8"/>
<rect x="975.60" y="1630.16" width="12.90" height="206.84" fill="#000"/>
<text x="979.90" y="1865.60" font-size="23.4" text-anchor="end" fill="#000" transform="rotate(-45 979.9 1865.6)">1200-1500</text>
<line x1="1019.85" y1="1837.00" x2="1019.85" y2="1845.00" stroke="#000" stroke-width="3" stroke-linecap="butt"/>
<rect x="1005.55" y="1714.63" width="11.10" height="122.37" fill="#fff" stroke="#000" stroke-width="1.8"/>
<rect x="1022.45" y="1662.54" width="12.90" height="174.46" fill="#000"/>
<text x="1026.75" y="1865.60" font-size="23.4" text-anchor="end" fill="#000" transform="rotate(-45 1026.75 1865.6)">1500-1800</text>
<line x1="1066.70" y1="1837.00" x2="1066.70" y2="1845.00" stroke="#000" stroke-width="3" stroke-linecap="butt"/>
<rect x="1052.40" y="1819.10" width="11.10" height="17.90" fill="#fff" stroke="#000" stroke-width="1.8"/>
<rect x="1069.30" y="1727.31" width="12.90" height="109.69" fill="#000"/>
<text x="1073.60" y="1865.60" font-size="23.4" text-anchor="end" fill="#000" transform="rotate(-45 1073.6000000000001 1865.6)">1800-2100</text>
<line x1="1113.55" y1="1837.00" x2="1113.55" y2="1845.00" stroke="#000" stroke-width="3" stroke-linecap="butt"/>
<rect x="1099.25" y="1827.45" width="11.10" height="9.55" fill="#fff" stroke="#000" stroke-width="1.8"/>
<rect x="1116.15" y="1799.39" width="12.90" height="37.61" fill="#000"/>
<text x="1120.45" y="1865.60" font-size="23.4" text-anchor="end" fill="#000" transform="rotate(-45 1120.45 1865.6)">2100-2400</text>
<line x1="1160.40" y1="1837.00" x2="1160.40" y2="1845.00" stroke="#000" stroke-width="3" stroke-linecap="butt"/>
<rect x="1146.10" y="1834.77" width="11.10" height="2.23" fill="#fff" stroke="#000" stroke-width="1.8"/>
<rect x="1163.00" y="1816.11" width="12.90" height="20.89" fill="#000"/>
<text x="1167.30" y="1865.60" font-size="23.4" text-anchor="end" fill="#000" transform="rotate(-45 1167.3000000000002 1865.6)">2400-2700</text>
<line x1="1207.25" y1="1837.00" x2="1207.25" y2="1845.00" stroke="#000" stroke-width="3" stroke-linecap="butt"/>
<rect x="1192.95" y="1833.72" width="11.10" height="3.28" fill="#fff" stroke="#000" stroke-width="1.8"/>
<rect x="1209.85" y="1829.69" width="12.90" height="7.31" fill="#000"/>
<text x="1214.15" y="1865.60" font-size="23.4" text-anchor="end" fill="#000" transform="rotate(-45 1214.15 1865.6)">&gt;2700</text>
<line x1="762.60" y1="1521.50" x2="762.60" y2="1838.80" stroke="#000" stroke-width="2.8" stroke-linecap="butt"/>
<line x1="754.10" y1="1837.00" x2="1233.30" y2="1837.00" stroke="#000" stroke-width="3.6" stroke-linecap="butt"/>
<text x="912.00" y="1540.00" font-size="26.7" text-anchor="start" font-weight="bold" fill="#000">Male</text>
<text x="705.00" y="1681.00" font-size="22.9" text-anchor="middle" fill="#000" transform="rotate(-90 705 1681)">% of total fiber cells</text>
<text x="865.4" y="1969.6" font-size="22.8" fill="#000">Area of fiber cell (<tspan font-family="Liberation Serif, serif">&#956;</tspan>m<tspan font-size="14.5" dy="-9.5">2</tspan><tspan dy="9.5">)</tspan></text>
<text x="0.00" y="1020.50" font-size="38.5" text-anchor="start" fill="#000">c</text>
<text x="254.70" y="1067.10" font-size="22" text-anchor="middle" font-weight="bold" fill="#000">Homozygous</text>
<text x="254.30" y="1506.80" font-size="22" text-anchor="middle" font-weight="bold" fill="#000">WT</text>
<g id="imgH">
<rect x="30.7" y="1089.3" width="447.1" height="335.1" fill="#dde6ec"/>
<defs><clipPath id="clipH"><rect x="30.7" y="1089.3" width="447.1" height="335.1"/></clipPath></defs>
<g clip-path="url(#clipH)">
<path d="M203.1 1203.6 L233.3 1198.2 L260.0 1191.1 L286.7 1182.2 L322.2 1173.3 L348.9 1160.9 L366.7 1148.4 L389.8 1143.1 L395.1 1148.4 L393.3 1155.6 L375.6 1162.7 L357.8 1171.6 L340.0 1176.9 L304.4 1185.8 L276.0 1205.3 L251.1 1208.9 L224.4 1210.7 L203.1 1212.4 Z" fill="#f3a2d6" opacity="0.95"/>
<path d="M31.3 1117.5 L40.0 1114.2 L50.0 1113.3 L54.2 1118.3 L55.8 1131.7 L55.0 1148.3 L51.7 1158.3 L43.3 1166.7 L35.0 1171.7 L31.3 1172.5 Z M60.8 1109.2 L65.0 1103.3 L80.0 1097.5 L96.7 1094.2 L113.3 1095.3 L125.0 1101.7 L136.7 1114.2 L140.8 1121.7 L136.7 1128.3 L123.3 1135.0 L108.3 1141.7 L96.7 1148.0 L86.7 1146.3 L71.7 1143.0 L63.3 1138.3 L61.3 1130.0 Z M186.7 1090.0 L255.0 1090.0 L255.0 1100.8 L245.0 1105.0 L236.7 1105.0 L221.7 1100.8 L196.7 1095.0 Z M251.3 1090.0 L286.3 1090.0 L278.0 1094.2 L263.0 1098.3 L251.3 1102.0 Z M448.0 1090.0 L477.2 1090.0 L477.2 1091.7 L461.3 1092.5 Z M157.5 1116.7 L161.7 1115.0 L175.0 1115.8 L196.7 1119.2 L221.7 1125.0 L231.7 1131.7 L240.0 1146.7 L255.0 1165.0 L255.0 1171.7 L246.7 1181.7 L230.0 1188.3 L213.3 1192.5 L200.0 1191.7 L191.7 1185.0 L185.0 1173.3 L171.7 1151.7 L161.7 1135.0 L158.3 1125.0 Z M251.3 1165.0 L263.0 1173.3 L251.3 1175.0 Z M232.5 1124.2 L245.0 1115.8 L255.0 1113.7 L255.0 1162.0 L246.7 1155.0 L238.3 1145.0 L234.2 1133.3 Z M251.3 1114.5 L263.0 1110.0 L278.0 1104.7 L286.3 1126.7 L294.7 1156.7 L278.0 1161.7 L269.7 1165.8 L261.3 1165.0 L251.3 1160.8 Z M278.0 1104.7 L294.7 1099.2 L319.7 1096.7 L346.3 1096.3 L366.3 1097.5 L372.2 1103.3 L369.7 1113.3 L356.3 1126.7 L336.3 1140.0 L316.3 1150.0 L299.7 1153.3 L294.7 1156.7 L286.3 1126.7 Z M413.0 1143.3 L419.7 1136.7 L436.3 1131.7 L461.3 1125.8 L477.2 1124.2 L477.2 1178.3 L461.3 1181.7 L444.7 1182.5 L428.0 1175.0 L418.0 1163.3 L413.8 1153.3 Z M42.5 1175.8 L50.0 1160.0 L57.5 1150.8 L63.3 1148.3 L75.0 1150.8 L87.5 1155.0 L91.7 1160.0 L93.3 1173.3 L91.7 1185.0 L80.0 1190.0 L63.3 1194.2 L50.0 1196.7 L45.8 1190.0 Z M31.3 1181.7 L36.7 1180.0 L41.7 1185.0 L44.2 1195.0 L40.0 1205.0 L35.0 1211.7 L31.3 1215.0 Z M94.2 1158.3 L101.7 1155.0 L123.3 1145.0 L143.3 1130.8 L150.0 1130.0 L156.7 1135.0 L168.3 1150.0 L180.0 1166.7 L190.0 1185.0 L186.7 1189.2 L166.7 1193.3 L146.7 1197.5 L130.0 1198.3 L113.3 1195.0 L98.3 1189.2 L95.8 1178.3 Z M276.3 1206.7 L286.3 1201.7 L303.0 1193.3 L328.0 1183.3 L351.3 1178.3 L356.3 1181.7 L363.0 1201.7 L369.7 1221.7 L373.0 1230.0 L376.3 1238.3 L369.7 1243.3 L356.3 1248.3 L346.3 1251.7 L328.0 1246.7 L311.3 1240.0 L294.7 1233.3 L283.0 1226.7 Z M356.3 1171.7 L369.7 1166.7 L386.3 1165.8 L403.0 1168.3 L416.3 1175.0 L423.0 1185.0 L424.7 1201.7 L421.3 1221.7 L418.0 1233.3 L411.3 1238.3 L394.7 1238.3 L379.7 1236.7 L373.0 1228.3 L366.3 1215.0 L361.3 1193.3 Z M435.6 1205.9 L443.0 1204.1 L450.4 1207.8 L457.8 1220.7 L467.0 1233.7 L477.8 1241.1 L477.8 1317.0 L467.0 1317.0 L452.2 1307.8 L441.1 1291.1 L435.6 1272.6 L433.7 1244.8 L433.7 1217.0 Z M452.2 1196.7 L467.0 1191.1 L477.8 1188.3 L477.8 1237.4 L465.2 1228.1 L457.8 1217.0 L452.2 1204.1 Z M31.5 1222.6 L41.1 1207.8 L50.4 1198.5 L76.3 1195.7 L94.8 1195.7 L113.3 1202.2 L124.4 1211.5 L122.6 1226.3 L118.9 1231.9 L104.1 1239.3 L85.6 1246.7 L72.6 1251.3 L57.8 1250.4 L41.1 1246.7 L31.5 1243.0 Z M124.4 1217.0 L128.1 1210.6 L150.4 1205.9 L174.4 1203.1 L193.0 1204.1 L200.4 1211.5 L202.2 1222.6 L198.5 1233.7 L191.1 1241.1 L178.1 1246.7 L159.6 1244.8 L141.1 1239.3 L126.3 1233.7 L123.5 1226.3 Z M212.4 1221.7 L224.4 1215.2 L243.0 1212.4 L267.0 1213.3 L280.0 1217.0 L280.0 1285.6 L254.1 1287.0 L220.7 1248.9 L206.9 1233.7 Z M228.1 1215.2 L248.5 1212.4 L270.7 1213.3 L281.9 1222.6 L291.1 1233.7 L293.0 1254.1 L293.0 1272.6 L291.1 1283.7 L276.3 1286.5 L254.1 1287.0 L228.1 1257.4 Z M74.4 1260.6 L94.8 1252.2 L120.7 1238.3 L144.8 1241.1 L183.7 1251.3 L180.0 1263.3 L170.7 1283.7 L161.5 1300.4 L155.9 1309.6 L133.7 1312.4 L126.3 1307.8 L111.5 1293.0 L94.8 1278.1 Z M31.5 1257.8 L41.1 1256.9 L57.8 1259.6 L70.7 1261.5 L94.8 1278.1 L111.5 1293.0 L126.3 1307.8 L130.0 1312.4 L113.3 1320.7 L94.8 1326.3 L78.1 1329.1 L68.9 1328.1 L57.8 1318.9 L41.1 1307.8 L31.5 1298.5 Z M172.6 1294.8 L178.1 1276.3 L187.4 1257.8 L196.7 1243.0 L202.6 1236.5 L218.5 1251.3 L250.7 1288.3 L248.5 1298.5 L243.0 1309.6 L233.7 1322.6 L226.3 1328.1 L196.7 1328.1 L174.4 1326.3 L170.7 1313.3 Z M294.8 1237.4 L307.8 1235.6 L326.3 1239.3 L341.1 1248.5 L348.5 1257.8 L348.5 1272.6 L344.8 1287.4 L333.7 1291.1 L313.3 1291.1 L300.4 1287.4 L294.8 1280.0 L293.0 1257.8 Z M350.4 1257.8 L359.6 1250.4 L378.1 1243.9 L396.7 1243.0 L415.2 1244.8 L426.3 1254.1 L431.9 1267.0 L430.0 1280.0 L424.4 1285.6 L396.7 1291.1 L368.9 1294.8 L352.2 1298.5 L346.7 1291.1 L348.5 1272.6 Z M230.9 1329.1 L239.3 1309.6 L252.2 1292.0 L261.5 1289.6 L280.0 1291.1 L280.0 1341.1 L252.2 1341.1 L243.0 1337.4 Z M104.1 1341.1 L113.3 1331.9 L126.3 1328.1 L141.1 1330.0 L150.4 1333.7 L155.9 1341.1 Z M229.1 1328.1 L234.6 1321.7 L243.9 1307.8 L248.5 1293.0 L267.0 1291.1 L294.8 1293.0 L307.8 1298.5 L311.5 1309.6 L309.6 1328.1 L307.8 1341.1 L261.5 1343.0 L243.0 1337.0 Z M311.5 1305.9 L322.6 1298.5 L341.1 1296.7 L352.2 1302.2 L359.6 1313.3 L359.6 1341.1 L309.6 1341.1 L309.6 1320.7 Z M361.5 1309.6 L378.1 1302.2 L405.9 1294.8 L424.4 1291.1 L433.7 1293.0 L452.2 1305.9 L465.2 1317.0 L472.6 1328.1 L470.7 1341.1 L363.3 1341.1 Z M31.5 1303.7 L41.1 1301.9 L54.1 1311.1 L65.2 1325.9 L65.2 1331.5 L48.5 1336.1 L31.5 1338.0 Z M44.8 1298.1 L126.3 1298.1 L131.9 1311.1 L118.9 1318.5 L100.4 1324.1 L76.3 1327.8 L70.7 1327.8 L57.8 1314.8 Z M120.7 1298.1 L163.3 1298.1 L159.6 1307.4 L144.8 1312.0 L131.9 1310.2 Z M170.7 1298.1 L244.8 1298.1 L233.7 1314.8 L226.3 1327.8 L196.7 1327.8 L174.4 1324.1 L168.9 1311.1 Z M246.7 1298.1 L280.0 1298.1 L280.0 1344.4 L261.5 1346.3 L243.0 1337.0 L230.0 1329.6 L235.6 1316.7 Z M93.0 1344.4 L107.8 1337.0 L126.3 1328.7 L141.1 1329.6 L152.2 1337.0 L157.8 1348.1 L155.9 1361.1 L152.2 1370.4 L148.5 1374.1 L131.9 1370.4 L113.3 1359.3 Z M31.5 1353.7 L48.5 1350.0 L67.0 1347.2 L89.3 1346.3 L113.3 1361.1 L131.9 1372.2 L152.2 1377.8 L155.9 1385.2 L141.1 1392.6 L122.6 1400.0 L104.1 1411.1 L89.3 1425.9 L57.8 1425.9 L48.5 1422.2 L41.1 1407.4 L31.5 1407.4 Z M31.5 1411.1 L48.5 1405.6 L50.4 1407.4 L65.2 1425.9 L31.5 1425.9 Z M91.1 1425.9 L113.3 1411.1 L131.9 1400.0 L155.9 1390.7 L170.7 1388.9 L187.4 1398.1 L200.4 1407.4 L205.9 1418.5 L205.9 1425.9 Z M159.6 1342.6 L170.7 1341.7 L196.7 1346.3 L215.2 1349.1 L233.7 1355.6 L248.5 1364.8 L252.2 1379.6 L254.1 1392.6 L250.4 1400.0 L233.7 1405.6 L215.2 1409.3 L204.1 1411.1 L187.4 1396.3 L170.7 1387.0 L161.5 1377.8 L159.6 1361.1 Z M209.6 1418.5 L224.4 1413.0 L243.0 1409.3 L255.9 1409.3 L265.2 1418.5 L267.0 1425.9 L209.6 1425.9 Z M241.1 1298.1 L309.6 1298.1 L311.5 1318.5 L307.8 1331.5 L300.4 1337.0 L285.6 1342.6 L267.0 1346.3 L248.5 1344.4 L230.0 1330.6 L235.6 1316.7 Z M311.5 1298.1 L344.8 1298.1 L355.9 1307.4 L359.6 1318.5 L359.6 1337.0 L357.8 1350.0 L341.1 1350.0 L326.3 1344.4 L311.5 1337.0 L307.8 1331.5 L311.5 1318.5 Z M359.6 1307.4 L367.0 1305.6 L396.7 1301.9 L443.0 1298.1 L452.2 1311.1 L467.0 1329.6 L468.9 1337.0 L459.6 1344.4 L433.7 1350.0 L405.9 1355.6 L393.0 1357.4 L370.7 1353.7 L363.3 1348.1 L361.5 1327.8 Z M446.7 1298.1 L477.8 1298.1 L477.8 1316.7 L467.0 1316.7 L455.9 1309.3 Z M228.1 1357.4 L241.1 1359.3 L250.4 1364.8 L254.1 1377.8 L252.2 1392.6 L246.7 1403.7 L228.1 1407.4 Z M257.8 1359.3 L276.3 1351.9 L294.8 1350.0 L309.6 1353.7 L322.6 1361.1 L330.0 1370.4 L328.1 1381.5 L322.6 1390.7 L309.6 1394.4 L285.6 1394.4 L263.3 1392.6 L255.9 1383.3 L255.9 1368.5 Z M228.1 1414.8 L244.8 1411.1 L257.8 1413.0 L270.7 1425.9 L228.1 1425.9 Z M267.0 1403.7 L285.6 1400.0 L313.3 1400.0 L326.3 1403.7 L333.7 1414.8 L337.4 1425.9 L270.7 1425.9 Z M330.0 1377.8 L337.4 1370.4 L344.8 1370.4 L359.6 1377.8 L370.7 1385.2 L383.7 1400.0 L396.7 1414.8 L400.4 1425.9 L339.3 1425.9 L330.0 1411.1 L324.4 1392.6 L326.3 1383.3 Z M370.7 1377.8 L387.4 1372.2 L415.2 1367.6 L433.7 1364.8 L444.8 1368.5 L452.2 1381.5 L450.4 1401.9 L446.7 1418.5 L444.8 1425.9 L404.1 1425.9 L393.0 1411.1 L378.1 1392.6 L370.7 1383.3 Z" fill="#f9d4ea" stroke="#f7e1ee" stroke-width="3.4" stroke-linejoin="round"/>
<path d="M31.3 1117.5 L40.0 1114.2 L50.0 1113.3 L54.2 1118.3 L55.8 1131.7 L55.0 1148.3 L51.7 1158.3 L43.3 1166.7 L35.0 1171.7 L31.3 1172.5 Z M60.8 1109.2 L65.0 1103.3 L80.0 1097.5 L96.7 1094.2 L113.3 1095.3 L125.0 1101.7 L136.7 1114.2 L140.8 1121.7 L136.7 1128.3 L123.3 1135.0 L108.3 1141.7 L96.7 1148.0 L86.7 1146.3 L71.7 1143.0 L63.3 1138.3 L61.3 1130.0 Z M186.7 1090.0 L255.0 1090.0 L255.0 1100.8 L245.0 1105.0 L236.7 1105.0 L221.7 1100.8 L196.7 1095.0 Z M251.3 1090.0 L286.3 1090.0 L278.0 1094.2 L263.0 1098.3 L251.3 1102.0 Z M448.0 1090.0 L477.2 1090.0 L477.2 1091.7 L461.3 1092.5 Z M157.5 1116.7 L161.7 1115.0 L175.0 1115.8 L196.7 1119.2 L221.7 1125.0 L231.7 1131.7 L240.0 1146.7 L255.0 1165.0 L255.0 1171.7 L246.7 1181.7 L230.0 1188.3 L213.3 1192.5 L200.0 1191.7 L191.7 1185.0 L185.0 1173.3 L171.7 1151.7 L161.7 1135.0 L158.3 1125.0 Z M251.3 1165.0 L263.0 1173.3 L251.3 1175.0 Z M232.5 1124.2 L245.0 1115.8 L255.0 1113.7 L255.0 1162.0 L246.7 1155.0 L238.3 1145.0 L234.2 1133.3 Z M251.3 1114.5 L263.0 1110.0 L278.0 1104.7 L286.3 1126.7 L294.7 1156.7 L278.0 1161.7 L269.7 1165.8 L261.3 1165.0 L251.3 1160.8 Z M278.0 1104.7 L294.7 1099.2 L319.7 1096.7 L346.3 1096.3 L366.3 1097.5 L372.2 1103.3 L369.7 1113.3 L356.3 1126.7 L336.3 1140.0 L316.3 1150.0 L299.7 1153.3 L294.7 1156.7 L286.3 1126.7 Z M413.0 1143.3 L419.7 1136.7 L436.3 1131.7 L461.3 1125.8 L477.2 1124.2 L477.2 1178.3 L461.3 1181.7 L444.7 1182.5 L428.0 1175.0 L418.0 1163.3 L413.8 1153.3 Z M42.5 1175.8 L50.0 1160.0 L57.5 1150.8 L63.3 1148.3 L75.0 1150.8 L87.5 1155.0 L91.7 1160.0 L93.3 1173.3 L91.7 1185.0 L80.0 1190.0 L63.3 1194.2 L50.0 1196.7 L45.8 1190.0 Z M31.3 1181.7 L36.7 1180.0 L41.7 1185.0 L44.2 1195.0 L40.0 1205.0 L35.0 1211.7 L31.3 1215.0 Z M94.2 1158.3 L101.7 1155.0 L123.3 1145.0 L143.3 1130.8 L150.0 1130.0 L156.7 1135.0 L168.3 1150.0 L180.0 1166.7 L190.0 1185.0 L186.7 1189.2 L166.7 1193.3 L146.7 1197.5 L130.0 1198.3 L113.3 1195.0 L98.3 1189.2 L95.8 1178.3 Z M276.3 1206.7 L286.3 1201.7 L303.0 1193.3 L328.0 1183.3 L351.3 1178.3 L356.3 1181.7 L363.0 1201.7 L369.7 1221.7 L373.0 1230.0 L376.3 1238.3 L369.7 1243.3 L356.3 1248.3 L346.3 1251.7 L328.0 1246.7 L311.3 1240.0 L294.7 1233.3 L283.0 1226.7 Z M356.3 1171.7 L369.7 1166.7 L386.3 1165.8 L403.0 1168.3 L416.3 1175.0 L423.0 1185.0 L424.7 1201.7 L421.3 1221.7 L418.0 1233.3 L411.3 1238.3 L394.7 1238.3 L379.7 1236.7 L373.0 1228.3 L366.3 1215.0 L361.3 1193.3 Z M435.6 1205.9 L443.0 1204.1 L450.4 1207.8 L457.8 1220.7 L467.0 1233.7 L477.8 1241.1 L477.8 1317.0 L467.0 1317.0 L452.2 1307.8 L441.1 1291.1 L435.6 1272.6 L433.7 1244.8 L433.7 1217.0 Z M452.2 1196.7 L467.0 1191.1 L477.8 1188.3 L477.8 1237.4 L465.2 1228.1 L457.8 1217.0 L452.2 1204.1 Z M31.5 1222.6 L41.1 1207.8 L50.4 1198.5 L76.3 1195.7 L94.8 1195.7 L113.3 1202.2 L124.4 1211.5 L122.6 1226.3 L118.9 1231.9 L104.1 1239.3 L85.6 1246.7 L72.6 1251.3 L57.8 1250.4 L41.1 1246.7 L31.5 1243.0 Z M124.4 1217.0 L128.1 1210.6 L150.4 1205.9 L174.4 1203.1 L193.0 1204.1 L200.4 1211.5 L202.2 1222.6 L198.5 1233.7 L191.1 1241.1 L178.1 1246.7 L159.6 1244.8 L141.1 1239.3 L126.3 1233.7 L123.5 1226.3 Z M212.4 1221.7 L224.4 1215.2 L243.0 1212.4 L267.0 1213.3 L280.0 1217.0 L280.0 1285.6 L254.1 1287.0 L220.7 1248.9 L206.9 1233.7 Z M228.1 1215.2 L248.5 1212.4 L270.7 1213.3 L281.9 1222.6 L291.1 1233.7 L293.0 1254.1 L293.0 1272.6 L291.1 1283.7 L276.3 1286.5 L254.1 1287.0 L228.1 1257.4 Z M74.4 1260.6 L94.8 1252.2 L120.7 1238.3 L144.8 1241.1 L183.7 1251.3 L180.0 1263.3 L170.7 1283.7 L161.5 1300.4 L155.9 1309.6 L133.7 1312.4 L126.3 1307.8 L111.5 1293.0 L94.8 1278.1 Z M31.5 1257.8 L41.1 1256.9 L57.8 1259.6 L70.7 1261.5 L94.8 1278.1 L111.5 1293.0 L126.3 1307.8 L130.0 1312.4 L113.3 1320.7 L94.8 1326.3 L78.1 1329.1 L68.9 1328.1 L57.8 1318.9 L41.1 1307.8 L31.5 1298.5 Z M172.6 1294.8 L178.1 1276.3 L187.4 1257.8 L196.7 1243.0 L202.6 1236.5 L218.5 1251.3 L250.7 1288.3 L248.5 1298.5 L243.0 1309.6 L233.7 1322.6 L226.3 1328.1 L196.7 1328.1 L174.4 1326.3 L170.7 1313.3 Z M294.8 1237.4 L307.8 1235.6 L326.3 1239.3 L341.1 1248.5 L348.5 1257.8 L348.5 1272.6 L344.8 1287.4 L333.7 1291.1 L313.3 1291.1 L300.4 1287.4 L294.8 1280.0 L293.0 1257.8 Z M350.4 1257.8 L359.6 1250.4 L378.1 1243.9 L396.7 1243.0 L415.2 1244.8 L426.3 1254.1 L431.9 1267.0 L430.0 1280.0 L424.4 1285.6 L396.7 1291.1 L368.9 1294.8 L352.2 1298.5 L346.7 1291.1 L348.5 1272.6 Z M230.9 1329.1 L239.3 1309.6 L252.2 1292.0 L261.5 1289.6 L280.0 1291.1 L280.0 1341.1 L252.2 1341.1 L243.0 1337.4 Z M104.1 1341.1 L113.3 1331.9 L126.3 1328.1 L141.1 1330.0 L150.4 1333.7 L155.9 1341.1 Z M229.1 1328.1 L234.6 1321.7 L243.9 1307.8 L248.5 1293.0 L267.0 1291.1 L294.8 1293.0 L307.8 1298.5 L311.5 1309.6 L309.6 1328.1 L307.8 1341.1 L261.5 1343.0 L243.0 1337.0 Z M311.5 1305.9 L322.6 1298.5 L341.1 1296.7 L352.2 1302.2 L359.6 1313.3 L359.6 1341.1 L309.6 1341.1 L309.6 1320.7 Z M361.5 1309.6 L378.1 1302.2 L405.9 1294.8 L424.4 1291.1 L433.7 1293.0 L452.2 1305.9 L465.2 1317.0 L472.6 1328.1 L470.7 1341.1 L363.3 1341.1 Z M31.5 1303.7 L41.1 1301.9 L54.1 1311.1 L65.2 1325.9 L65.2 1331.5 L48.5 1336.1 L31.5 1338.0 Z M44.8 1298.1 L126.3 1298.1 L131.9 1311.1 L118.9 1318.5 L100.4 1324.1 L76.3 1327.8 L70.7 1327.8 L57.8 1314.8 Z M120.7 1298.1 L163.3 1298.1 L159.6 1307.4 L144.8 1312.0 L131.9 1310.2 Z M170.7 1298.1 L244.8 1298.1 L233.7 1314.8 L226.3 1327.8 L196.7 1327.8 L174.4 1324.1 L168.9 1311.1 Z M246.7 1298.1 L280.0 1298.1 L280.0 1344.4 L261.5 1346.3 L243.0 1337.0 L230.0 1329.6 L235.6 1316.7 Z M93.0 1344.4 L107.8 1337.0 L126.3 1328.7 L141.1 1329.6 L152.2 1337.0 L157.8 1348.1 L155.9 1361.1 L152.2 1370.4 L148.5 1374.1 L131.9 1370.4 L113.3 1359.3 Z M31.5 1353.7 L48.5 1350.0 L67.0 1347.2 L89.3 1346.3 L113.3 1361.1 L131.9 1372.2 L152.2 1377.8 L155.9 1385.2 L141.1 1392.6 L122.6 1400.0 L104.1 1411.1 L89.3 1425.9 L57.8 1425.9 L48.5 1422.2 L41.1 1407.4 L31.5 1407.4 Z M31.5 1411.1 L48.5 1405.6 L50.4 1407.4 L65.2 1425.9 L31.5 1425.9 Z M91.1 1425.9 L113.3 1411.1 L131.9 1400.0 L155.9 1390.7 L170.7 1388.9 L187.4 1398.1 L200.4 1407.4 L205.9 1418.5 L205.9 1425.9 Z M159.6 1342.6 L170.7 1341.7 L196.7 1346.3 L215.2 1349.1 L233.7 1355.6 L248.5 1364.8 L252.2 1379.6 L254.1 1392.6 L250.4 1400.0 L233.7 1405.6 L215.2 1409.3 L204.1 1411.1 L187.4 1396.3 L170.7 1387.0 L161.5 1377.8 L159.6 1361.1 Z M209.6 1418.5 L224.4 1413.0 L243.0 1409.3 L255.9 1409.3 L265.2 1418.5 L267.0 1425.9 L209.6 1425.9 Z M241.1 1298.1 L309.6 1298.1 L311.5 1318.5 L307.8 1331.5 L300.4 1337.0 L285.6 1342.6 L267.0 1346.3 L248.5 1344.4 L230.0 1330.6 L235.6 1316.7 Z M311.5 1298.1 L344.8 1298.1 L355.9 1307.4 L359.6 1318.5 L359.6 1337.0 L357.8 1350.0 L341.1 1350.0 L326.3 1344.4 L311.5 1337.0 L307.8 1331.5 L311.5 1318.5 Z M359.6 1307.4 L367.0 1305.6 L396.7 1301.9 L443.0 1298.1 L452.2 1311.1 L467.0 1329.6 L468.9 1337.0 L459.6 1344.4 L433.7 1350.0 L405.9 1355.6 L393.0 1357.4 L370.7 1353.7 L363.3 1348.1 L361.5 1327.8 Z M446.7 1298.1 L477.8 1298.1 L477.8 1316.7 L467.0 1316.7 L455.9 1309.3 Z M228.1 1357.4 L241.1 1359.3 L250.4 1364.8 L254.1 1377.8 L252.2 1392.6 L246.7 1403.7 L228.1 1407.4 Z M257.8 1359.3 L276.3 1351.9 L294.8 1350.0 L309.6 1353.7 L322.6 1361.1 L330.0 1370.4 L328.1 1381.5 L322.6 1390.7 L309.6 1394.4 L285.6 1394.4 L263.3 1392.6 L255.9 1383.3 L255.9 1368.5 Z M228.1 1414.8 L244.8 1411.1 L257.8 1413.0 L270.7 1425.9 L228.1 1425.9 Z M267.0 1403.7 L285.6 1400.0 L313.3 1400.0 L326.3 1403.7 L333.7 1414.8 L337.4 1425.9 L270.7 1425.9 Z M330.0 1377.8 L337.4 1370.4 L344.8 1370.4 L359.6 1377.8 L370.7 1385.2 L383.7 1400.0 L396.7 1414.8 L400.4 1425.9 L339.3 1425.9 L330.0 1411.1 L324.4 1392.6 L326.3 1383.3 Z M370.7 1377.8 L387.4 1372.2 L415.2 1367.6 L433.7 1364.8 L444.8 1368.5 L452.2 1381.5 L450.4 1401.9 L446.7 1418.5 L444.8 1425.9 L404.1 1425.9 L393.0 1411.1 L378.1 1392.6 L370.7 1383.3 Z" fill="#fc43ae"/>
<path d="M278.0 1104.7 L286.3 1126.7 L294.7 1156.7" fill="none" stroke="#f9dcee" stroke-width="1.6" stroke-linecap="round"/>
<path d="M70.7 1261.5 L94.8 1278.1 L111.5 1293.0 L128.1 1309.6" fill="none" stroke="#f9dcee" stroke-width="1.6" stroke-linecap="round"/>
<path d="M232.5 1124.2 L234.2 1133.3 L238.3 1145.0 L246.7 1155.0 L255.0 1162.0" fill="none" stroke="#f9dcee" stroke-width="1.6" stroke-linecap="round"/>
<path d="M250.4 1289.3 L248.5 1298.5 L243.0 1309.6 L233.7 1322.6 L226.3 1329.1" fill="none" stroke="#f9dcee" stroke-width="1.6" stroke-linecap="round"/>
</g>
<g clip-path="url(#clipH)" fill="#5b2f99" opacity="0.85">
<ellipse cx="60.0" cy="1142.5" rx="2.6" ry="1.6" transform="rotate(38 60.0 1142.5)"/>
<ellipse cx="93.3" cy="1148.3" rx="2.6" ry="1.6" transform="rotate(150 93.3 1148.3)"/>
<ellipse cx="116.7" cy="1143.3" rx="2.6" ry="1.6" transform="rotate(103 116.7 1143.3)"/>
<ellipse cx="43.3" cy="1175.8" rx="2.6" ry="1.6" transform="rotate(51 43.3 1175.8)"/>
<ellipse cx="49.2" cy="1199.2" rx="2.6" ry="1.6" transform="rotate(11 49.2 1199.2)"/>
<ellipse cx="77.5" cy="1194.2" rx="2.6" ry="1.6" transform="rotate(154 77.5 1194.2)"/>
<ellipse cx="173.3" cy="1204.2" rx="2.6" ry="1.6" transform="rotate(178 173.3 1204.2)"/>
<ellipse cx="186.7" cy="1173.3" rx="2.6" ry="1.6" transform="rotate(16 186.7 1173.3)"/>
<ellipse cx="231.7" cy="1134.2" rx="2.6" ry="1.6" transform="rotate(144 231.7 1134.2)"/>
<ellipse cx="235.0" cy="1141.7" rx="2.6" ry="1.6" transform="rotate(74 235.0 1141.7)"/>
<ellipse cx="205.0" cy="1214.2" rx="2.6" ry="1.6" transform="rotate(27 205.0 1214.2)"/>
<ellipse cx="204.2" cy="1233.3" rx="2.6" ry="1.6" transform="rotate(53 204.2 1233.3)"/>
<ellipse cx="200.0" cy="1243.3" rx="2.6" ry="1.6" transform="rotate(138 200.0 1243.3)"/>
<ellipse cx="236.7" cy="1206.7" rx="2.6" ry="1.6" transform="rotate(157 236.7 1206.7)"/>
<ellipse cx="278.0" cy="1105.8" rx="2.6" ry="1.6" transform="rotate(8 278.0 1105.8)"/>
<ellipse cx="281.3" cy="1114.2" rx="2.6" ry="1.6" transform="rotate(111 281.3 1114.2)"/>
<ellipse cx="369.7" cy="1150.0" rx="2.6" ry="1.6" transform="rotate(8 369.7 1150.0)"/>
<ellipse cx="356.3" cy="1155.0" rx="2.6" ry="1.6" transform="rotate(129 356.3 1155.0)"/>
<ellipse cx="366.3" cy="1219.2" rx="2.6" ry="1.6" transform="rotate(60 366.3 1219.2)"/>
<ellipse cx="289.7" cy="1228.3" rx="2.6" ry="1.6" transform="rotate(159 289.7 1228.3)"/>
<ellipse cx="446.3" cy="1194.2" rx="2.6" ry="1.6" transform="rotate(177 446.3 1194.2)"/>
<ellipse cx="458.0" cy="1216.7" rx="2.6" ry="1.6" transform="rotate(91 458.0 1216.7)"/>
<ellipse cx="461.3" cy="1226.7" rx="2.6" ry="1.6" transform="rotate(180 461.3 1226.7)"/>
<ellipse cx="429.7" cy="1198.3" rx="2.6" ry="1.6" transform="rotate(56 429.7 1198.3)"/>
<ellipse cx="48.5" cy="1198.5" rx="2.6" ry="1.6" transform="rotate(14 48.5 1198.5)"/>
<ellipse cx="128.1" cy="1212.4" rx="2.6" ry="1.6" transform="rotate(108 128.1 1212.4)"/>
<ellipse cx="176.3" cy="1204.1" rx="2.6" ry="1.6" transform="rotate(6 176.3 1204.1)"/>
<ellipse cx="204.1" cy="1215.2" rx="2.6" ry="1.6" transform="rotate(36 204.1 1215.2)"/>
<ellipse cx="202.2" cy="1235.6" rx="2.6" ry="1.6" transform="rotate(73 202.2 1235.6)"/>
<ellipse cx="200.4" cy="1243.0" rx="2.6" ry="1.6" transform="rotate(110 200.4 1243.0)"/>
<ellipse cx="170.7" cy="1291.1" rx="2.6" ry="1.6" transform="rotate(28 170.7 1291.1)"/>
<ellipse cx="159.6" cy="1316.1" rx="2.6" ry="1.6" transform="rotate(8 159.6 1316.1)"/>
<ellipse cx="165.2" cy="1318.9" rx="2.6" ry="1.6" transform="rotate(156 165.2 1318.9)"/>
<ellipse cx="57.8" cy="1313.3" rx="2.6" ry="1.6" transform="rotate(56 57.8 1313.3)"/>
<ellipse cx="255.9" cy="1289.3" rx="2.6" ry="1.6" transform="rotate(173 255.9 1289.3)"/>
<ellipse cx="228.1" cy="1330.0" rx="2.6" ry="1.6" transform="rotate(161 228.1 1330.0)"/>
<ellipse cx="59.6" cy="1313.0" rx="2.6" ry="1.6" transform="rotate(68 59.6 1313.0)"/>
<ellipse cx="159.6" cy="1316.7" rx="2.6" ry="1.6" transform="rotate(83 159.6 1316.7)"/>
<ellipse cx="165.2" cy="1319.4" rx="2.6" ry="1.6" transform="rotate(94 165.2 1319.4)"/>
<ellipse cx="228.1" cy="1329.6" rx="2.6" ry="1.6" transform="rotate(116 228.1 1329.6)"/>
<ellipse cx="162.4" cy="1341.7" rx="2.6" ry="1.6" transform="rotate(107 162.4 1341.7)"/>
<ellipse cx="102.2" cy="1349.1" rx="2.6" ry="1.6" transform="rotate(101 102.2 1349.1)"/>
<ellipse cx="154.1" cy="1375.0" rx="2.6" ry="1.6" transform="rotate(112 154.1 1375.0)"/>
<ellipse cx="159.6" cy="1387.0" rx="2.6" ry="1.6" transform="rotate(169 159.6 1387.0)"/>
<ellipse cx="155.0" cy="1394.4" rx="2.6" ry="1.6" transform="rotate(91 155.0 1394.4)"/>
<ellipse cx="248.5" cy="1364.8" rx="2.6" ry="1.6" transform="rotate(78 248.5 1364.8)"/>
<ellipse cx="259.6" cy="1400.0" rx="2.6" ry="1.6" transform="rotate(130 259.6 1400.0)"/>
<ellipse cx="248.5" cy="1403.7" rx="2.6" ry="1.6" transform="rotate(43 248.5 1403.7)"/>
<ellipse cx="65.2" cy="1418.5" rx="2.6" ry="1.6" transform="rotate(54 65.2 1418.5)"/>
<ellipse cx="52.2" cy="1351.9" rx="2.6" ry="1.6" transform="rotate(176 52.2 1351.9)"/>
<ellipse cx="230.0" cy="1329.6" rx="2.6" ry="1.6" transform="rotate(94 230.0 1329.6)"/>
<ellipse cx="248.5" cy="1364.8" rx="2.6" ry="1.6" transform="rotate(99 248.5 1364.8)"/>
<ellipse cx="259.6" cy="1400.9" rx="2.6" ry="1.6" transform="rotate(2 259.6 1400.9)"/>
<ellipse cx="294.8" cy="1350.0" rx="2.6" ry="1.6" transform="rotate(75 294.8 1350.0)"/>
<ellipse cx="350.4" cy="1355.6" rx="2.6" ry="1.6" transform="rotate(104 350.4 1355.6)"/>
<ellipse cx="317.0" cy="1396.3" rx="2.6" ry="1.6" transform="rotate(4 317.0 1396.3)"/>
<ellipse cx="452.2" cy="1403.7" rx="2.6" ry="1.6" transform="rotate(111 452.2 1403.7)"/>
</g>
</g>
<g id="imgW">
<rect x="30.7" y="1527.4" width="447.1" height="334.5" fill="#fc43ae"/>
<defs><clipPath id="clipW"><rect x="30.7" y="1527.4" width="447.1" height="334.5"/></clipPath></defs>
<g clip-path="url(#clipW)" fill="none" stroke-linecap="round" stroke-linejoin="round">
<path d="M36.7 1526.7 L50.0 1533.3 L63.3 1535.0 L68.3 1536.7 L80.0 1531.7 L90.0 1526.7" stroke="#fd8fd2" stroke-width="4.3"/>
<path d="M68.3 1526.7 L68.3 1536.7 L65.8 1563.3 L64.2 1569.2" stroke="#fd8fd2" stroke-width="5.2"/>
<path d="M64.2 1569.2 L50.0 1580.0 L35.0 1591.7 L28.3 1594.2" stroke="#fd8fd2" stroke-width="4.8"/>
<path d="M64.2 1569.2 L76.7 1585.0 L88.3 1596.7 L90.0 1608.3 L86.7 1613.3" stroke="#fd8fd2" stroke-width="4.6"/>
<path d="M35.0 1591.7 L36.7 1616.7 L43.3 1645.0 L45.0 1648.3" stroke="#fd8fd2" stroke-width="4.3"/>
<path d="M28.3 1672.5 L45.0 1648.3 L63.3 1628.3 L86.7 1613.3 L113.3 1609.2 L150.0 1602.5 L180.0 1595.8 L196.7 1586.7 L213.3 1581.7 L256.7 1573.3" stroke="#fd8fd2" stroke-width="6.0"/>
<path d="M86.7 1618.3 L95.0 1641.7 L100.0 1675.0 L101.7 1701.7" stroke="#fd8fd2" stroke-width="4.5"/>
<path d="M128.3 1526.7 L128.3 1546.7 L138.3 1558.3 L146.7 1578.3 L150.0 1596.7 L150.0 1602.5" stroke="#fd8fd2" stroke-width="4.0"/>
<path d="M128.3 1546.7 L113.3 1563.3 L100.0 1583.3 L91.7 1598.3" stroke="#fd8fd2" stroke-width="2.7"/>
<path d="M171.7 1526.7 L183.3 1540.0 L193.3 1550.0 L195.0 1566.7 L196.7 1583.3" stroke="#fd8fd2" stroke-width="5.2"/>
<path d="M193.3 1550.0 L201.7 1540.0 L210.0 1526.7" stroke="#fd8fd2" stroke-width="3.1"/>
<path d="M240.0 1526.7 L245.0 1541.7 L256.7 1563.3" stroke="#fd8fd2" stroke-width="2.7"/>
<path d="M148.3 1605.0 L148.3 1616.7 L138.3 1633.3 L133.3 1658.3 L131.7 1701.7" stroke="#fd8fd2" stroke-width="3.1"/>
<path d="M148.3 1616.7 L163.3 1633.3 L171.7 1645.0 L180.0 1661.7 L188.3 1678.3 L196.7 1681.7" stroke="#fd8fd2" stroke-width="2.4"/>
<path d="M40.0 1670.0 L50.0 1681.7 L60.0 1701.7" stroke="#fd8fd2" stroke-width="3.7"/>
<path d="M223.3 1628.3 L233.3 1641.7 L236.7 1645.0" stroke="#fd8fd2" stroke-width="2.2"/>
<path d="M203.3 1683.3 L211.7 1686.7 L215.0 1698.3" stroke="#fd8fd2" stroke-width="2.2"/>
<path d="M279.7 1526.7 L273.0 1541.7 L263.0 1558.3 L256.3 1571.7 L251.3 1575.0" stroke="#fd8fd2" stroke-width="4.5"/>
<path d="M251.3 1576.7 L269.7 1580.0 L294.7 1582.5 L319.7 1585.8 L336.3 1590.0 L353.0 1592.5 L379.7 1595.0 L389.7 1603.3 L403.0 1615.0 L409.7 1631.7 L413.0 1638.3 L428.0 1648.3 L444.7 1658.3 L453.0 1666.7" stroke="#fd8fd2" stroke-width="6.0"/>
<path d="M329.7 1526.7 L336.3 1541.7 L334.7 1558.3 L333.0 1583.3 L336.3 1590.0" stroke="#fd8fd2" stroke-width="4.8"/>
<path d="M336.3 1541.7 L349.7 1540.0 L361.3 1535.0 L366.3 1526.7" stroke="#fd8fd2" stroke-width="3.7"/>
<path d="M366.3 1531.7 L379.7 1540.0 L386.3 1538.3" stroke="#fd8fd2" stroke-width="2.9"/>
<path d="M381.3 1540.0 L382.2 1545.8" stroke="#fd8fd2" stroke-width="2.9"/>
<path d="M379.7 1595.0 L386.3 1588.3 L403.0 1575.0 L419.7 1561.7 L438.0 1543.3" stroke="#fd8fd2" stroke-width="2.6"/>
<path d="M343.0 1595.0 L343.0 1616.7 L343.0 1638.3 L336.3 1641.7" stroke="#fd8fd2" stroke-width="2.9"/>
<path d="M343.0 1638.3 L329.7 1643.3 L318.0 1650.0 L314.7 1666.7 L309.7 1683.3 L306.3 1701.7" stroke="#fd8fd2" stroke-width="2.7"/>
<path d="M278.0 1583.3 L278.0 1616.7 L279.7 1638.3 L274.7 1645.0 L268.0 1651.7" stroke="#fd8fd2" stroke-width="2.2"/>
<path d="M409.7 1640.0 L394.7 1650.0 L383.0 1658.3 L376.3 1661.7" stroke="#fd8fd2" stroke-width="2.7"/>
<path d="M376.3 1661.7 L379.7 1675.0 L381.3 1681.7" stroke="#fd8fd2" stroke-width="3.7"/>
<path d="M446.3 1588.3 L446.3 1600.0 L448.8 1603.3" stroke="#fd8fd2" stroke-width="2.7"/>
<path d="M461.3 1618.3 L469.7 1635.0 L474.7 1640.0" stroke="#fd8fd2" stroke-width="2.7"/>
<path d="M479.7 1638.3 L474.7 1640.0 L464.7 1648.3 L458.0 1661.7 L453.0 1668.3" stroke="#fd8fd2" stroke-width="3.7"/>
<path d="M453.0 1668.3 L444.7 1678.3 L439.7 1691.7 L438.0 1701.7" stroke="#fd8fd2" stroke-width="5.4"/>
<path d="M453.0 1668.3 L466.3 1678.3 L474.7 1691.7 L478.0 1701.7" stroke="#fd8fd2" stroke-width="4.3"/>
<path d="M55.0 1688.3 L65.0 1706.7 L56.7 1723.3 L50.0 1740.0 L48.3 1748.3" stroke="#fd8fd2" stroke-width="4.8"/>
<path d="M65.0 1706.7 L80.0 1703.3 L101.7 1700.0 L130.0 1693.3 L133.3 1688.3" stroke="#fd8fd2" stroke-width="4.3"/>
<path d="M101.7 1688.3 L103.3 1700.0 L101.7 1723.3 L103.3 1751.7" stroke="#fd8fd2" stroke-width="4.8"/>
<path d="M130.0 1693.3 L140.0 1706.7 L143.3 1710.0" stroke="#fd8fd2" stroke-width="4.3"/>
<path d="M143.3 1710.0 L156.7 1710.0 L170.0 1708.3" stroke="#fd8fd2" stroke-width="2.4"/>
<path d="M143.3 1710.0 L145.0 1740.0 L153.3 1780.0" stroke="#fd8fd2" stroke-width="2.4"/>
<path d="M28.3 1737.5 L46.7 1751.7 L63.3 1770.0 L76.7 1783.3 L88.3 1803.3 L101.7 1823.3 L113.3 1840.0 L121.7 1851.7 L131.7 1863.3" stroke="#fd8fd2" stroke-width="6.6"/>
<path d="M103.3 1751.7 L93.3 1761.7 L85.0 1773.3 L76.7 1783.3" stroke="#fd8fd2" stroke-width="4.8"/>
<path d="M103.3 1751.7 L121.7 1765.0 L138.3 1776.7 L150.0 1781.7" stroke="#fd8fd2" stroke-width="2.9"/>
<path d="M150.0 1781.7 L171.7 1783.3 L188.3 1788.3 L205.0 1795.0 L218.3 1800.0" stroke="#fd8fd2" stroke-width="3.7"/>
<path d="M218.3 1800.0 L238.3 1798.3 L256.7 1797.5" stroke="#fd8fd2" stroke-width="5.4"/>
<path d="M218.3 1800.0 L210.0 1811.7 L200.0 1826.7 L191.7 1845.0 L190.0 1846.7" stroke="#fd8fd2" stroke-width="4.8"/>
<path d="M190.0 1846.7 L180.0 1850.0 L171.7 1855.0 L163.3 1863.3" stroke="#fd8fd2" stroke-width="4.3"/>
<path d="M190.0 1846.7 L200.0 1853.3 L206.7 1863.3" stroke="#fd8fd2" stroke-width="4.3"/>
<path d="M150.0 1781.7 L151.7 1798.3 L155.0 1823.3 L158.3 1848.3 L160.0 1863.3" stroke="#fd8fd2" stroke-width="4.3"/>
<path d="M70.0 1785.0 L60.0 1793.3 L55.0 1803.3 L55.0 1823.3 L53.3 1845.0 L55.0 1863.3" stroke="#fd8fd2" stroke-width="4.3"/>
<path d="M28.3 1800.0 L53.3 1798.3" stroke="#fd8fd2" stroke-width="2.9"/>
<path d="M28.3 1846.7 L51.7 1848.3 L53.3 1846.7" stroke="#fd8fd2" stroke-width="2.9"/>
<path d="M113.3 1840.0 L103.3 1848.3 L96.7 1863.3" stroke="#fd8fd2" stroke-width="3.7"/>
<path d="M256.7 1820.0 L243.3 1835.0 L230.0 1856.7 L226.7 1863.3" stroke="#fd8fd2" stroke-width="4.3"/>
<path d="M116.7 1833.3 L130.0 1823.3 L143.3 1816.7" stroke="#fd8fd2" stroke-width="2.2"/>
<path d="M213.3 1688.3 L225.0 1715.0 L230.0 1731.7 L240.0 1758.3" stroke="#fd8fd2" stroke-width="2.4"/>
<path d="M191.7 1731.7 L190.0 1753.3" stroke="#fd8fd2" stroke-width="2.2"/>
<path d="M251.3 1798.3 L269.7 1800.0 L291.3 1798.3 L309.7 1791.7 L316.3 1780.0 L336.3 1771.7 L353.0 1760.0 L373.0 1746.7 L394.7 1738.3 L419.7 1728.3 L428.0 1728.3 L453.0 1738.3 L479.7 1741.7" stroke="#fd8fd2" stroke-width="5.8"/>
<path d="M441.3 1688.3 L436.3 1706.7 L429.7 1720.0 L426.3 1725.0" stroke="#fd8fd2" stroke-width="5.4"/>
<path d="M306.3 1688.3 L306.3 1700.0 L313.0 1715.0 L313.0 1740.0 L311.3 1765.0 L314.7 1780.0" stroke="#fd8fd2" stroke-width="4.3"/>
<path d="M453.0 1740.0 L444.7 1756.7 L438.0 1770.0 L433.0 1786.7 L431.3 1793.3" stroke="#fd8fd2" stroke-width="6.0"/>
<path d="M431.3 1793.3 L433.0 1806.7 L429.7 1823.3 L428.0 1836.7 L429.7 1863.3" stroke="#fd8fd2" stroke-width="6.6"/>
<path d="M431.3 1793.3 L441.3 1795.0 L479.7 1795.0" stroke="#fd8fd2" stroke-width="4.3"/>
<path d="M431.3 1793.3 L411.3 1790.0 L389.7 1791.7" stroke="#fd8fd2" stroke-width="4.3"/>
<path d="M389.7 1791.7 L384.7 1806.7 L379.7 1820.0" stroke="#fd8fd2" stroke-width="4.8"/>
<path d="M389.7 1791.7 L379.7 1781.7 L373.0 1768.3" stroke="#fd8fd2" stroke-width="2.4"/>
<path d="M379.7 1820.0 L394.7 1828.3 L419.7 1831.7 L428.0 1833.3" stroke="#fd8fd2" stroke-width="4.3"/>
<path d="M291.3 1798.3 L298.0 1810.0 L306.3 1823.3 L313.0 1840.0 L314.7 1863.3" stroke="#fd8fd2" stroke-width="4.8"/>
<path d="M269.7 1800.0 L261.3 1811.7 L251.3 1825.0" stroke="#fd8fd2" stroke-width="4.3"/>
<path d="M379.7 1820.0 L369.7 1836.7 L363.0 1851.7 L361.3 1863.3" stroke="#fd8fd2" stroke-width="4.3"/>
<path d="M251.3 1840.0 L261.3 1850.0 L266.3 1863.3" stroke="#fd8fd2" stroke-width="3.7"/>
<path d="M309.7 1793.3 L323.0 1806.7 L329.7 1818.3 L331.3 1821.7" stroke="#fd8fd2" stroke-width="2.4"/>
<path d="M331.3 1820.0 L346.3 1821.7 L361.3 1823.3" stroke="#fd8fd2" stroke-width="2.4"/>
<path d="M274.7 1723.3 L274.7 1756.7 L269.7 1781.7 L266.3 1796.7" stroke="#fd8fd2" stroke-width="2.4"/>
<path d="M474.7 1688.3 L479.7 1700.0" stroke="#fd8fd2" stroke-width="3.7"/>
<path d="M429.7 1851.7 L453.0 1853.3 L479.7 1858.3" stroke="#fd8fd2" stroke-width="4.8"/>
<path d="M403.0 1700.0 L413.0 1723.3 L419.7 1728.3" stroke="#fd8fd2" stroke-width="2.2"/>
<path d="M36.7 1526.7 L50.0 1533.3 L63.3 1535.0 L68.3 1536.7 L80.0 1531.7 L90.0 1526.7" stroke="#fbf3f7" stroke-width="2.9"/>
<path d="M68.3 1526.7 L68.3 1536.7 L65.8 1563.3 L64.2 1569.2" stroke="#fbf3f7" stroke-width="3.8"/>
<path d="M64.2 1569.2 L50.0 1580.0 L35.0 1591.7 L28.3 1594.2" stroke="#fbf3f7" stroke-width="3.4"/>
<path d="M64.2 1569.2 L76.7 1585.0 L88.3 1596.7 L90.0 1608.3 L86.7 1613.3" stroke="#fbf3f7" stroke-width="3.2"/>
<path d="M35.0 1591.7 L36.7 1616.7 L43.3 1645.0 L45.0 1648.3" stroke="#fbf3f7" stroke-width="2.9"/>
<path d="M28.3 1672.5 L45.0 1648.3 L63.3 1628.3 L86.7 1613.3 L113.3 1609.2 L150.0 1602.5 L180.0 1595.8 L196.7 1586.7 L213.3 1581.7 L256.7 1573.3" stroke="#fbf3f7" stroke-width="4.6"/>
<path d="M86.7 1618.3 L95.0 1641.7 L100.0 1675.0 L101.7 1701.7" stroke="#fbf3f7" stroke-width="3.1"/>
<path d="M128.3 1526.7 L128.3 1546.7 L138.3 1558.3 L146.7 1578.3 L150.0 1596.7 L150.0 1602.5" stroke="#fbf3f7" stroke-width="2.6"/>
<path d="M128.3 1546.7 L113.3 1563.3 L100.0 1583.3 L91.7 1598.3" stroke="#fbd0ec" stroke-width="1.3"/>
<path d="M171.7 1526.7 L183.3 1540.0 L193.3 1550.0 L195.0 1566.7 L196.7 1583.3" stroke="#fbf3f7" stroke-width="3.8"/>
<path d="M193.3 1550.0 L201.7 1540.0 L210.0 1526.7" stroke="#fbd0ec" stroke-width="1.7"/>
<path d="M240.0 1526.7 L245.0 1541.7 L256.7 1563.3" stroke="#fbd0ec" stroke-width="1.3"/>
<path d="M148.3 1605.0 L148.3 1616.7 L138.3 1633.3 L133.3 1658.3 L131.7 1701.7" stroke="#fbd0ec" stroke-width="1.7"/>
<path d="M148.3 1616.7 L163.3 1633.3 L171.7 1645.0 L180.0 1661.7 L188.3 1678.3 L196.7 1681.7" stroke="#fd8fd6" stroke-width="1.0"/>
<path d="M40.0 1670.0 L50.0 1681.7 L60.0 1701.7" stroke="#fbf3f7" stroke-width="2.3"/>
<path d="M223.3 1628.3 L233.3 1641.7 L236.7 1645.0" stroke="#fd8fd6" stroke-width="0.8"/>
<path d="M203.3 1683.3 L211.7 1686.7 L215.0 1698.3" stroke="#fd8fd6" stroke-width="0.8"/>
<path d="M279.7 1526.7 L273.0 1541.7 L263.0 1558.3 L256.3 1571.7 L251.3 1575.0" stroke="#fbf3f7" stroke-width="3.1"/>
<path d="M251.3 1576.7 L269.7 1580.0 L294.7 1582.5 L319.7 1585.8 L336.3 1590.0 L353.0 1592.5 L379.7 1595.0 L389.7 1603.3 L403.0 1615.0 L409.7 1631.7 L413.0 1638.3 L428.0 1648.3 L444.7 1658.3 L453.0 1666.7" stroke="#fbf3f7" stroke-width="4.6"/>
<path d="M329.7 1526.7 L336.3 1541.7 L334.7 1558.3 L333.0 1583.3 L336.3 1590.0" stroke="#fbf3f7" stroke-width="3.4"/>
<path d="M336.3 1541.7 L349.7 1540.0 L361.3 1535.0 L366.3 1526.7" stroke="#fbf3f7" stroke-width="2.3"/>
<path d="M366.3 1531.7 L379.7 1540.0 L386.3 1538.3" stroke="#fbd0ec" stroke-width="1.5"/>
<path d="M381.3 1540.0 L382.2 1545.8" stroke="#fbd0ec" stroke-width="1.5"/>
<path d="M379.7 1595.0 L386.3 1588.3 L403.0 1575.0 L419.7 1561.7 L438.0 1543.3" stroke="#fbd0ec" stroke-width="1.2"/>
<path d="M343.0 1595.0 L343.0 1616.7 L343.0 1638.3 L336.3 1641.7" stroke="#fbd0ec" stroke-width="1.5"/>
<path d="M343.0 1638.3 L329.7 1643.3 L318.0 1650.0 L314.7 1666.7 L309.7 1683.3 L306.3 1701.7" stroke="#fbd0ec" stroke-width="1.3"/>
<path d="M278.0 1583.3 L278.0 1616.7 L279.7 1638.3 L274.7 1645.0 L268.0 1651.7" stroke="#fd8fd6" stroke-width="0.8"/>
<path d="M409.7 1640.0 L394.7 1650.0 L383.0 1658.3 L376.3 1661.7" stroke="#fbd0ec" stroke-width="1.3"/>
<path d="M376.3 1661.7 L379.7 1675.0 L381.3 1681.7" stroke="#fbf3f7" stroke-width="2.3"/>
<path d="M446.3 1588.3 L446.3 1600.0 L448.8 1603.3" stroke="#fbd0ec" stroke-width="1.3"/>
<path d="M461.3 1618.3 L469.7 1635.0 L474.7 1640.0" stroke="#fbd0ec" stroke-width="1.3"/>
<path d="M479.7 1638.3 L474.7 1640.0 L464.7 1648.3 L458.0 1661.7 L453.0 1668.3" stroke="#fbf3f7" stroke-width="2.3"/>
<path d="M453.0 1668.3 L444.7 1678.3 L439.7 1691.7 L438.0 1701.7" stroke="#fbf3f7" stroke-width="4.0"/>
<path d="M453.0 1668.3 L466.3 1678.3 L474.7 1691.7 L478.0 1701.7" stroke="#fbf3f7" stroke-width="2.9"/>
<path d="M55.0 1688.3 L65.0 1706.7 L56.7 1723.3 L50.0 1740.0 L48.3 1748.3" stroke="#fbf3f7" stroke-width="3.4"/>
<path d="M65.0 1706.7 L80.0 1703.3 L101.7 1700.0 L130.0 1693.3 L133.3 1688.3" stroke="#fbf3f7" stroke-width="2.9"/>
<path d="M101.7 1688.3 L103.3 1700.0 L101.7 1723.3 L103.3 1751.7" stroke="#fbf3f7" stroke-width="3.4"/>
<path d="M130.0 1693.3 L140.0 1706.7 L143.3 1710.0" stroke="#fbf3f7" stroke-width="2.9"/>
<path d="M143.3 1710.0 L156.7 1710.0 L170.0 1708.3" stroke="#fd8fd6" stroke-width="1.0"/>
<path d="M143.3 1710.0 L145.0 1740.0 L153.3 1780.0" stroke="#fd8fd6" stroke-width="1.0"/>
<path d="M28.3 1737.5 L46.7 1751.7 L63.3 1770.0 L76.7 1783.3 L88.3 1803.3 L101.7 1823.3 L113.3 1840.0 L121.7 1851.7 L131.7 1863.3" stroke="#fbf3f7" stroke-width="5.2"/>
<path d="M103.3 1751.7 L93.3 1761.7 L85.0 1773.3 L76.7 1783.3" stroke="#fbf3f7" stroke-width="3.4"/>
<path d="M103.3 1751.7 L121.7 1765.0 L138.3 1776.7 L150.0 1781.7" stroke="#fbd0ec" stroke-width="1.5"/>
<path d="M150.0 1781.7 L171.7 1783.3 L188.3 1788.3 L205.0 1795.0 L218.3 1800.0" stroke="#fbf3f7" stroke-width="2.3"/>
<path d="M218.3 1800.0 L238.3 1798.3 L256.7 1797.5" stroke="#fbf3f7" stroke-width="4.0"/>
<path d="M218.3 1800.0 L210.0 1811.7 L200.0 1826.7 L191.7 1845.0 L190.0 1846.7" stroke="#fbf3f7" stroke-width="3.4"/>
<path d="M190.0 1846.7 L180.0 1850.0 L171.7 1855.0 L163.3 1863.3" stroke="#fbf3f7" stroke-width="2.9"/>
<path d="M190.0 1846.7 L200.0 1853.3 L206.7 1863.3" stroke="#fbf3f7" stroke-width="2.9"/>
<path d="M150.0 1781.7 L151.7 1798.3 L155.0 1823.3 L158.3 1848.3 L160.0 1863.3" stroke="#fbf3f7" stroke-width="2.9"/>
<path d="M70.0 1785.0 L60.0 1793.3 L55.0 1803.3 L55.0 1823.3 L53.3 1845.0 L55.0 1863.3" stroke="#fbf3f7" stroke-width="2.9"/>
<path d="M28.3 1800.0 L53.3 1798.3" stroke="#fbd0ec" stroke-width="1.5"/>
<path d="M28.3 1846.7 L51.7 1848.3 L53.3 1846.7" stroke="#fbd0ec" stroke-width="1.5"/>
<path d="M113.3 1840.0 L103.3 1848.3 L96.7 1863.3" stroke="#fbf3f7" stroke-width="2.3"/>
<path d="M256.7 1820.0 L243.3 1835.0 L230.0 1856.7 L226.7 1863.3" stroke="#fbf3f7" stroke-width="2.9"/>
<path d="M116.7 1833.3 L130.0 1823.3 L143.3 1816.7" stroke="#fd8fd6" stroke-width="0.8"/>
<path d="M213.3 1688.3 L225.0 1715.0 L230.0 1731.7 L240.0 1758.3" stroke="#fd8fd6" stroke-width="1.0"/>
<path d="M191.7 1731.7 L190.0 1753.3" stroke="#fd8fd6" stroke-width="0.8"/>
<path d="M251.3 1798.3 L269.7 1800.0 L291.3 1798.3 L309.7 1791.7 L316.3 1780.0 L336.3 1771.7 L353.0 1760.0 L373.0 1746.7 L394.7 1738.3 L419.7 1728.3 L428.0 1728.3 L453.0 1738.3 L479.7 1741.7" stroke="#fbf3f7" stroke-width="4.4"/>
<path d="M441.3 1688.3 L436.3 1706.7 L429.7 1720.0 L426.3 1725.0" stroke="#fbf3f7" stroke-width="4.0"/>
<path d="M306.3 1688.3 L306.3 1700.0 L313.0 1715.0 L313.0 1740.0 L311.3 1765.0 L314.7 1780.0" stroke="#fbf3f7" stroke-width="2.9"/>
<path d="M453.0 1740.0 L444.7 1756.7 L438.0 1770.0 L433.0 1786.7 L431.3 1793.3" stroke="#fbf3f7" stroke-width="4.6"/>
<path d="M431.3 1793.3 L433.0 1806.7 L429.7 1823.3 L428.0 1836.7 L429.7 1863.3" stroke="#fbf3f7" stroke-width="5.2"/>
<path d="M431.3 1793.3 L441.3 1795.0 L479.7 1795.0" stroke="#fbf3f7" stroke-width="2.9"/>
<path d="M431.3 1793.3 L411.3 1790.0 L389.7 1791.7" stroke="#fbf3f7" stroke-width="2.9"/>
<path d="M389.7 1791.7 L384.7 1806.7 L379.7 1820.0" stroke="#fbf3f7" stroke-width="3.4"/>
<path d="M389.7 1791.7 L379.7 1781.7 L373.0 1768.3" stroke="#fd8fd6" stroke-width="1.0"/>
<path d="M379.7 1820.0 L394.7 1828.3 L419.7 1831.7 L428.0 1833.3" stroke="#fbf3f7" stroke-width="2.9"/>
<path d="M291.3 1798.3 L298.0 1810.0 L306.3 1823.3 L313.0 1840.0 L314.7 1863.3" stroke="#fbf3f7" stroke-width="3.4"/>
<path d="M269.7 1800.0 L261.3 1811.7 L251.3 1825.0" stroke="#fbf3f7" stroke-width="2.9"/>
<path d="M379.7 1820.0 L369.7 1836.7 L363.0 1851.7 L361.3 1863.3" stroke="#fbf3f7" stroke-width="2.9"/>
<path d="M251.3 1840.0 L261.3 1850.0 L266.3 1863.3" stroke="#fbf3f7" stroke-width="2.3"/>
<path d="M309.7 1793.3 L323.0 1806.7 L329.7 1818.3 L331.3 1821.7" stroke="#fd8fd6" stroke-width="1.0"/>
<path d="M331.3 1820.0 L346.3 1821.7 L361.3 1823.3" stroke="#fd8fd6" stroke-width="1.0"/>
<path d="M274.7 1723.3 L274.7 1756.7 L269.7 1781.7 L266.3 1796.7" stroke="#fd8fd6" stroke-width="1.0"/>
<path d="M474.7 1688.3 L479.7 1700.0" stroke="#fbf3f7" stroke-width="2.3"/>
<path d="M429.7 1851.7 L453.0 1853.3 L479.7 1858.3" stroke="#fbf3f7" stroke-width="3.4"/>
<path d="M403.0 1700.0 L413.0 1723.3 L419.7 1728.3" stroke="#fd8fd6" stroke-width="0.8"/>
<path d="M441.3 1526.7 L479.7 1526.7 L479.7 1550.0 L469.7 1541.7 L456.3 1533.3 Z" fill="#dde6ec" stroke="none"/>
</g>
<g clip-path="url(#clipW)" fill="#5b2f99" opacity="0.85">
<ellipse cx="128.3" cy="1545.8" rx="2.6" ry="1.6" transform="rotate(43 128.3 1545.8)"/>
<ellipse cx="64.2" cy="1570.0" rx="2.6" ry="1.6" transform="rotate(98 64.2 1570.0)"/>
<ellipse cx="33.3" cy="1595.0" rx="2.6" ry="1.6" transform="rotate(67 33.3 1595.0)"/>
<ellipse cx="108.3" cy="1611.7" rx="2.6" ry="1.6" transform="rotate(109 108.3 1611.7)"/>
<ellipse cx="148.3" cy="1617.5" rx="2.6" ry="1.6" transform="rotate(113 148.3 1617.5)"/>
<ellipse cx="180.0" cy="1596.7" rx="2.6" ry="1.6" transform="rotate(12 180.0 1596.7)"/>
<ellipse cx="190.8" cy="1560.8" rx="2.6" ry="1.6" transform="rotate(2 190.8 1560.8)"/>
<ellipse cx="203.3" cy="1540.0" rx="2.6" ry="1.6" transform="rotate(151 203.3 1540.0)"/>
<ellipse cx="213.3" cy="1580.0" rx="2.6" ry="1.6" transform="rotate(47 213.3 1580.0)"/>
<ellipse cx="86.7" cy="1625.0" rx="2.6" ry="1.6" transform="rotate(42 86.7 1625.0)"/>
<ellipse cx="168.3" cy="1641.7" rx="2.6" ry="1.6" transform="rotate(179 168.3 1641.7)"/>
<ellipse cx="188.3" cy="1676.7" rx="2.6" ry="1.6" transform="rotate(85 188.3 1676.7)"/>
<ellipse cx="43.3" cy="1671.7" rx="2.6" ry="1.6" transform="rotate(151 43.3 1671.7)"/>
<ellipse cx="233.3" cy="1641.7" rx="2.6" ry="1.6" transform="rotate(86 233.3 1641.7)"/>
<ellipse cx="256.3" cy="1565.0" rx="2.6" ry="1.6" transform="rotate(115 256.3 1565.0)"/>
<ellipse cx="278.8" cy="1585.0" rx="2.6" ry="1.6" transform="rotate(27 278.8 1585.0)"/>
<ellipse cx="288.0" cy="1586.7" rx="2.6" ry="1.6" transform="rotate(114 288.0 1586.7)"/>
<ellipse cx="343.0" cy="1595.8" rx="2.6" ry="1.6" transform="rotate(156 343.0 1595.8)"/>
<ellipse cx="343.0" cy="1638.3" rx="2.6" ry="1.6" transform="rotate(94 343.0 1638.3)"/>
<ellipse cx="279.7" cy="1636.7" rx="2.6" ry="1.6" transform="rotate(133 279.7 1636.7)"/>
<ellipse cx="268.0" cy="1650.0" rx="2.6" ry="1.6" transform="rotate(121 268.0 1650.0)"/>
<ellipse cx="364.7" cy="1529.2" rx="2.6" ry="1.6" transform="rotate(12 364.7 1529.2)"/>
<ellipse cx="409.7" cy="1640.0" rx="2.6" ry="1.6" transform="rotate(136 409.7 1640.0)"/>
<ellipse cx="383.8" cy="1658.3" rx="2.6" ry="1.6" transform="rotate(106 383.8 1658.3)"/>
<ellipse cx="469.7" cy="1635.0" rx="2.6" ry="1.6" transform="rotate(54 469.7 1635.0)"/>
<ellipse cx="466.3" cy="1645.0" rx="2.6" ry="1.6" transform="rotate(6 466.3 1645.0)"/>
<ellipse cx="308.0" cy="1691.7" rx="2.6" ry="1.6" transform="rotate(156 308.0 1691.7)"/>
<ellipse cx="65.0" cy="1706.7" rx="2.6" ry="1.6" transform="rotate(85 65.0 1706.7)"/>
<ellipse cx="96.7" cy="1753.3" rx="2.6" ry="1.6" transform="rotate(129 96.7 1753.3)"/>
<ellipse cx="105.0" cy="1751.7" rx="2.6" ry="1.6" transform="rotate(158 105.0 1751.7)"/>
<ellipse cx="136.7" cy="1708.3" rx="2.6" ry="1.6" transform="rotate(129 136.7 1708.3)"/>
<ellipse cx="150.0" cy="1781.7" rx="2.6" ry="1.6" transform="rotate(166 150.0 1781.7)"/>
<ellipse cx="170.0" cy="1782.5" rx="2.6" ry="1.6" transform="rotate(71 170.0 1782.5)"/>
<ellipse cx="198.3" cy="1795.0" rx="2.6" ry="1.6" transform="rotate(144 198.3 1795.0)"/>
<ellipse cx="218.3" cy="1800.8" rx="2.6" ry="1.6" transform="rotate(80 218.3 1800.8)"/>
<ellipse cx="150.0" cy="1796.7" rx="2.6" ry="1.6" transform="rotate(168 150.0 1796.7)"/>
<ellipse cx="150.0" cy="1815.0" rx="2.6" ry="1.6" transform="rotate(158 150.0 1815.0)"/>
<ellipse cx="111.7" cy="1841.7" rx="2.6" ry="1.6" transform="rotate(18 111.7 1841.7)"/>
<ellipse cx="101.7" cy="1860.0" rx="2.6" ry="1.6" transform="rotate(24 101.7 1860.0)"/>
<ellipse cx="51.7" cy="1798.3" rx="2.6" ry="1.6" transform="rotate(39 51.7 1798.3)"/>
<ellipse cx="245.0" cy="1833.3" rx="2.6" ry="1.6" transform="rotate(174 245.0 1833.3)"/>
<ellipse cx="228.3" cy="1721.7" rx="2.6" ry="1.6" transform="rotate(79 228.3 1721.7)"/>
<ellipse cx="191.7" cy="1733.3" rx="2.6" ry="1.6" transform="rotate(113 191.7 1733.3)"/>
<ellipse cx="190.0" cy="1753.3" rx="2.6" ry="1.6" transform="rotate(54 190.0 1753.3)"/>
<ellipse cx="301.3" cy="1700.0" rx="2.6" ry="1.6" transform="rotate(91 301.3 1700.0)"/>
<ellipse cx="308.0" cy="1692.5" rx="2.6" ry="1.6" transform="rotate(69 308.0 1692.5)"/>
<ellipse cx="354.7" cy="1713.3" rx="2.6" ry="1.6" transform="rotate(63 354.7 1713.3)"/>
<ellipse cx="426.3" cy="1724.2" rx="2.6" ry="1.6" transform="rotate(105 426.3 1724.2)"/>
<ellipse cx="448.0" cy="1740.0" rx="2.6" ry="1.6" transform="rotate(105 448.0 1740.0)"/>
<ellipse cx="369.7" cy="1753.3" rx="2.6" ry="1.6" transform="rotate(163 369.7 1753.3)"/>
<ellipse cx="354.7" cy="1755.8" rx="2.6" ry="1.6" transform="rotate(123 354.7 1755.8)"/>
<ellipse cx="314.7" cy="1785.0" rx="2.6" ry="1.6" transform="rotate(167 314.7 1785.0)"/>
<ellipse cx="266.3" cy="1800.0" rx="2.6" ry="1.6" transform="rotate(154 266.3 1800.0)"/>
<ellipse cx="289.7" cy="1799.2" rx="2.6" ry="1.6" transform="rotate(178 289.7 1799.2)"/>
<ellipse cx="430.5" cy="1790.0" rx="2.6" ry="1.6" transform="rotate(121 430.5 1790.0)"/>
<ellipse cx="438.0" cy="1794.2" rx="2.6" ry="1.6" transform="rotate(29 438.0 1794.2)"/>
<ellipse cx="383.0" cy="1820.0" rx="2.6" ry="1.6" transform="rotate(155 383.0 1820.0)"/>
<ellipse cx="421.3" cy="1831.7" rx="2.6" ry="1.6" transform="rotate(174 421.3 1831.7)"/>
<ellipse cx="331.3" cy="1820.0" rx="2.6" ry="1.6" transform="rotate(163 331.3 1820.0)"/>
<ellipse cx="454.7" cy="1851.7" rx="2.6" ry="1.6" transform="rotate(102 454.7 1851.7)"/>
<ellipse cx="269.7" cy="1780.0" rx="2.6" ry="1.6" transform="rotate(128 269.7 1780.0)"/>
</g>
</g>
<rect x="285.6" y="1408.3" width="164.8" height="5" fill="#231815"/>
<text x="364.3" y="1402.8" font-size="16.8" text-anchor="middle" fill="#231815">100 <tspan font-family="Liberation Serif, serif">&#956;</tspan>m</text>
<rect x="301.8" y="1843" width="164.5" height="5" fill="#231815"/>
<text x="381.4" y="1836.7" font-size="16.8" text-anchor="middle" fill="#231815">100 <tspan font-family="Liberation Serif, serif">&#956;</tspan>m</text>
</svg></div></body></html>
